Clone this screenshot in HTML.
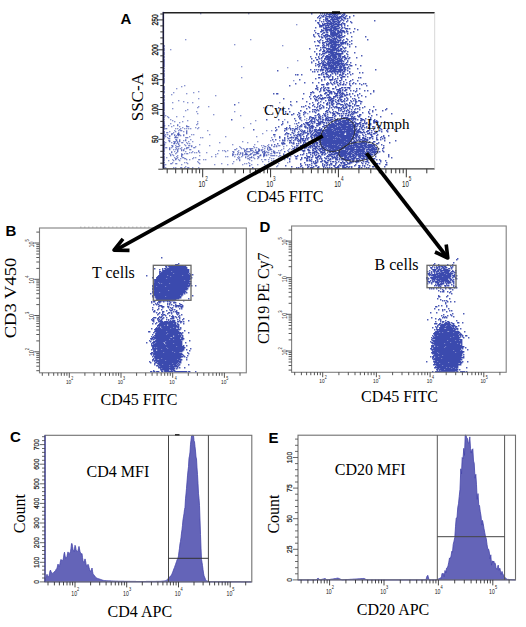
<!DOCTYPE html><html><head><meta charset="utf-8"><style>html,body{margin:0;padding:0;background:#fff;width:526px;height:627px;overflow:hidden}svg{display:block}</style></head><body><svg width="526" height="627" viewBox="0 0 526 627"><path d="M311 13h0m9 0h0m2 0h0m2 0h0m2 0h0m1 0h0m2 0h0m1 0h0m1 0h0m1 0h0m1 0h0m1 0h0m1 0h0m1 0h0m2 0h0m1 0h0m1 0h0m3 0h0m1 0h0m-20 1h0m2 0h0m2 0h0m1 0h0m1 0h0m1 0h0m2 0h0m1 0h0m1 0h0m2 0h0m5 0h0m2 0h0m-25 1h0m2 0h0m2 0h0m2 0h0m4 0h0m3 0h0m2 0h0m2 0h0m5 0h0m2 0h0m3 0h0m7 0h0m-35 1h0m4 0h0m1 0h0m3 0h0m1 0h0m1 0h0m1 0h0m1 0h0m1 0h0m2 0h0m1 0h0m1 0h0m2 0h0m2 0h0m1 0h0m1 0h0m1 0h0m3 0h0m4 0h0m-32 1h0m3 0h0m5 0h0m4 0h0m2 0h0m1 0h0m1 0h0m2 0h0m1 0h0m1 0h0m1 0h0m1 0h0m1 0h0m3 0h0m1 0h0m5 0h0m-30 1h0m6 0h0m1 0h0m1 0h0m4 0h0m1 0h0m2 0h0m2 0h0m1 0h0m1 0h0m1 0h0m2 0h0m3 0h0m1 0h0m2 0h0m-24 1h0m2 0h0m1 0h0m1 0h0m3 0h0m1 0h0m1 0h0m1 0h0m1 0h0m1 0h0m1 0h0m1 0h0m4 0h0m1 0h0m-27 1h0m4 0h0m6 0h0m2 0h0m1 0h0m1 0h0m3 0h0m1 0h0m4 0h0m1 0h0m2 0h0m3 0h0m4 0h0m27 0h0m-53 1h0m2 0h0m3 0h0m2 0h0m1 0h0m1 0h0m2 0h0m1 0h0m1 0h0m1 0h0m1 0h0m2 0h0m1 0h0m7 0h0m4 0h0m-33 1h0m1 0h0m9 0h0m3 0h0m1 0h0m2 0h0m1 0h0m3 0h0m1 0h0m1 0h0m3 0h0m9 0h0m-33 1h0m4 0h0m2 0h0m1 0h0m1 0h0m1 0h0m1 0h0m1 0h0m1 0h0m1 0h0m1 0h0m1 0h0m2 0h0m1 0h0m2 0h0m3 0h0m2 0h0m1 0h0m-25 1h0m3 0h0m1 0h0m1 0h0m3 0h0m2 0h0m1 0h0m1 0h0m2 0h0m1 0h0m1 0h0m1 0h0m1 0h0m1 0h0m1 0h0m1 0h0m1 0h0m3 0h0m-25 1h0m1 0h0m1 0h0m1 0h0m1 0h0m2 0h0m1 0h0m1 0h0m1 0h0m3 0h0m1 0h0m1 0h0m4 0h0m1 0h0m3 0h0m3 0h0m3 0h0m-28 1h0m1 0h0m1 0h0m4 0h0m3 0h0m2 0h0m1 0h0m1 0h0m2 0h0m1 0h0m1 0h0m1 0h0m1 0h0m3 0h0m-26 1h0m8 0h0m2 0h0m1 0h0m1 0h0m1 0h0m1 0h0m2 0h0m1 0h0m1 0h0m1 0h0m1 0h0m4 0h0m3 0h0m2 0h0m-21 1h0m1 0h0m1 0h0m1 0h0m4 0h0m1 0h0m2 0h0m1 0h0m1 0h0m1 0h0m1 0h0m1 0h0m3 0h0m4 0h0m1 0h0m1 0h0m2 0h0m5 0h0m-33 1h0m4 0h0m1 0h0m1 0h0m1 0h0m1 0h0m1 0h0m1 0h0m2 0h0m1 0h0m1 0h0m1 0h0m4 0h0m17 0h0m-43 1h0m7 0h0m1 0h0m1 0h0m2 0h0m1 0h0m1 0h0m2 0h0m1 0h0m1 0h0m1 0h0m1 0h0m2 0h0m2 0h0m1 0h0m2 0h0m1 0h0m1 0h0m1 0h0m3 0h0m-26 1h0m1 0h0m5 0h0m4 0h0m1 0h0m2 0h0m1 0h0m3 0h0m1 0h0m1 0h0m1 0h0m2 0h0m1 0h0m1 0h0m2 0h0m1 0h0m6 0h0m-38 1h0m8 0h0m1 0h0m2 0h0m1 0h0m3 0h0m1 0h0m1 0h0m1 0h0m1 0h0m1 0h0m2 0h0m1 0h0m1 0h0m1 0h0m1 0h0m3 0h0m6 0h0m-33 1h0m1 0h0m4 0h0m8 0h0m1 0h0m1 0h0m1 0h0m1 0h0m1 0h0m1 0h0m1 0h0m1 0h0m3 0h0m6 0h0m-34 1h0m8 0h0m4 0h0m1 0h0m1 0h0m3 0h0m1 0h0m1 0h0m1 0h0m1 0h0m1 0h0m1 0h0m1 0h0m2 0h0m2 0h0m-28 1h0m5 0h0m5 0h0m1 0h0m1 0h0m2 0h0m1 0h0m1 0h0m2 0h0m1 0h0m1 0h0m1 0h0m1 0h0m1 0h0m2 0h0m1 0h0m1 0h0m1 0h0m3 0h0m-30 1h0m5 0h0m2 0h0m3 0h0m2 0h0m1 0h0m2 0h0m1 0h0m2 0h0m1 0h0m3 0h0m1 0h0m1 0h0m1 0h0m3 0h0m1 0h0m8 0h0m14 0h0m-44 1h0m1 0h0m3 0h0m6 0h0m3 0h0m2 0h0m2 0h0m1 0h0m1 0h0m1 0h0m-16 1h0m2 0h0m1 0h0m1 0h0m3 0h0m1 0h0m1 0h0m1 0h0m1 0h0m3 0h0m7 0h0m-26 1h0m6 0h0m1 0h0m2 0h0m1 0h0m1 0h0m2 0h0m1 0h0m1 0h0m2 0h0m3 0h0m3 0h0m4 0h0m20 0h0m-50 1h0m2 0h0m3 0h0m5 0h0m2 0h0m1 0h0m1 0h0m1 0h0m1 0h0m2 0h0m2 0h0m1 0h0m1 0h0m1 0h0m2 0h0m9 0h0m-37 1h0m4 0h0m7 0h0m1 0h0m1 0h0m1 0h0m2 0h0m1 0h0m1 0h0m1 0h0m1 0h0m1 0h0m1 0h0m2 0h0m4 0h0m3 0h0m1 0h0m3 0h0m-30 1h0m3 0h0m1 0h0m1 0h0m5 0h0m1 0h0m1 0h0m1 0h0m1 0h0m1 0h0m1 0h0m1 0h0m1 0h0m1 0h0m2 0h0m1 0h0m1 0h0m1 0h0m1 0h0m1 0h0m-23 1h0m4 0h0m2 0h0m1 0h0m1 0h0m1 0h0m2 0h0m1 0h0m1 0h0m5 0h0m1 0h0m1 0h0m1 0h0m2 0h0m2 0h0m4 0h0m-28 1h0m3 0h0m1 0h0m1 0h0m3 0h0m1 0h0m1 0h0m1 0h0m1 0h0m1 0h0m1 0h0m1 0h0m1 0h0m2 0h0m6 0h0m2 0h0m-34 1h0m2 0h0m1 0h0m4 0h0m2 0h0m2 0h0m2 0h0m2 0h0m1 0h0m1 0h0m2 0h0m1 0h0m1 0h0m2 0h0m2 0h0m-17 1h0m5 0h0m2 0h0m1 0h0m1 0h0m1 0h0m1 0h0m1 0h0m3 0h0m1 0h0m3 0h0m7 0h0m6 0h0m-35 1h0m2 0h0m1 0h0m1 0h0m1 0h0m5 0h0m1 0h0m1 0h0m1 0h0m1 0h0m1 0h0m2 0h0m1 0h0m5 0h0m2 0h0m-36 1h0m7 0h0m10 0h0m1 0h0m1 0h0m1 0h0m3 0h0m1 0h0m1 0h0m1 0h0m1 0h0m1 0h0m3 0h0m1 0h0m3 0h0m-24 1h0m3 0h0m3 0h0m2 0h0m1 0h0m1 0h0m1 0h0m1 0h0m1 0h0m1 0h0m1 0h0m1 0h0m2 0h0m2 0h0m1 0h0m-22 1h0m4 0h0m1 0h0m3 0h0m3 0h0m1 0h0m1 0h0m1 0h0m1 0h0m2 0h0m1 0h0m1 0h0m1 0h0m1 0h0m3 0h0m2 0h0m-31 1h0m8 0h0m1 0h0m1 0h0m2 0h0m1 0h0m1 0h0m1 0h0m1 0h0m1 0h0m1 0h0m4 0h0m2 0h0m3 0h0m1 0h0m2 0h0m3 0h0m-22 1h0m1 0h0m2 0h0m1 0h0m1 0h0m1 0h0m1 0h0m1 0h0m1 0h0m1 0h0m1 0h0m6 0h0m12 0h0m-38 1h0m3 0h0m3 0h0m1 0h0m1 0h0m6 0h0m1 0h0m1 0h0m1 0h0m2 0h0m1 0h0m1 0h0m1 0h0m1 0h0m1 0h0m1 0h0m1 0h0m4 0h0m-30 1h0m3 0h0m2 0h0m7 0h0m1 0h0m2 0h0m1 0h0m1 0h0m1 0h0m1 0h0m1 0h0m1 0h0m1 0h0m1 0h0m1 0h0m7 0h0m-24 1h0m3 0h0m1 0h0m3 0h0m1 0h0m1 0h0m1 0h0m1 0h0m1 0h0m3 0h0m1 0h0m1 0h0m4 0h0m17 0h0m-51 1h0m8 0h0m4 0h0m3 0h0m1 0h0m1 0h0m1 0h0m1 0h0m1 0h0m2 0h0m1 0h0m1 0h0m1 0h0m1 0h0m2 0h0m1 0h0m1 0h0m2 0h0m1 0h0m1 0h0m3 0h0m-32 1h0m3 0h0m3 0h0m4 0h0m1 0h0m1 0h0m1 0h0m1 0h0m1 0h0m2 0h0m1 0h0m1 0h0m1 0h0m1 0h0m2 0h0m2 0h0m2 0h0m2 0h0m1 0h0m4 0h0m7 0h0m-45 1h0m8 0h0m2 0h0m3 0h0m1 0h0m2 0h0m1 0h0m1 0h0m1 0h0m1 0h0m2 0h0m1 0h0m1 0h0m2 0h0m1 0h0m1 0h0m2 0h0m4 0h0m1 0h0m2 0h0m-32 1h0m1 0h0m7 0h0m2 0h0m1 0h0m1 0h0m1 0h0m2 0h0m1 0h0m1 0h0m2 0h0m1 0h0m1 0h0m2 0h0m1 0h0m1 0h0m3 0h0m-31 1h0m8 0h0m2 0h0m5 0h0m1 0h0m1 0h0m1 0h0m1 0h0m1 0h0m1 0h0m3 0h0m1 0h0m1 0h0m1 0h0m1 0h0m1 0h0m5 0h0m-29 1h0m4 0h0m2 0h0m3 0h0m1 0h0m2 0h0m2 0h0m1 0h0m2 0h0m1 0h0m1 0h0m1 0h0m1 0h0m1 0h0m1 0h0m2 0h0m4 0h0m-36 1h0m7 0h0m3 0h0m2 0h0m2 0h0m2 0h0m1 0h0m1 0h0m1 0h0m1 0h0m1 0h0m1 0h0m1 0h0m1 0h0m1 0h0m1 0h0m1 0h0m3 0h0m5 0h0m4 0h0m-35 1h0m4 0h0m1 0h0m2 0h0m1 0h0m3 0h0m1 0h0m1 0h0m1 0h0m1 0h0m2 0h0m1 0h0m1 0h0m1 0h0m1 0h0m1 0h0m1 0h0m1 0h0m1 0h0m1 0h0m1 0h0m1 0h0m2 0h0m-28 1h0m1 0h0m4 0h0m1 0h0m1 0h0m1 0h0m2 0h0m1 0h0m1 0h0m2 0h0m2 0h0m1 0h0m1 0h0m2 0h0m1 0h0m1 0h0m2 0h0m1 0h0m2 0h0m2 0h0m1 0h0m2 0h0m6 0h0m-40 1h0m4 0h0m3 0h0m1 0h0m1 0h0m1 0h0m1 0h0m2 0h0m1 0h0m1 0h0m1 0h0m1 0h0m1 0h0m2 0h0m1 0h0m1 0h0m1 0h0m2 0h0m2 0h0m1 0h0m1 0h0m6 0h0m1 0h0m9 0h0m-42 1h0m3 0h0m3 0h0m4 0h0m1 0h0m1 0h0m1 0h0m1 0h0m1 0h0m2 0h0m1 0h0m3 0h0m1 0h0m1 0h0m2 0h0m5 0h0m-27 1h0m2 0h0m1 0h0m1 0h0m1 0h0m2 0h0m2 0h0m1 0h0m1 0h0m1 0h0m1 0h0m1 0h0m1 0h0m1 0h0m2 0h0m1 0h0m1 0h0m2 0h0m1 0h0m1 0h0m2 0h0m-26 1h0m4 0h0m1 0h0m1 0h0m1 0h0m1 0h0m1 0h0m1 0h0m1 0h0m1 0h0m1 0h0m1 0h0m4 0h0m1 0h0m3 0h0m1 0h0m3 0h0m2 0h0m8 0h0m-47 1h0m4 0h0m2 0h0m2 0h0m2 0h0m1 0h0m1 0h0m1 0h0m3 0h0m1 0h0m3 0h0m1 0h0m2 0h0m1 0h0m1 0h0m1 0h0m1 0h0m1 0h0m1 0h0m1 0h0m1 0h0m1 0h0m2 0h0m1 0h0m30 0h0m-98 1h0m43 0h0m2 0h0m3 0h0m2 0h0m2 0h0m1 0h0m2 0h0m1 0h0m1 0h0m1 0h0m3 0h0m1 0h0m1 0h0m1 0h0m1 0h0m2 0h0m3 0h0m-35 1h0m2 0h0m3 0h0m8 0h0m2 0h0m1 0h0m1 0h0m1 0h0m1 0h0m1 0h0m1 0h0m1 0h0m1 0h0m1 0h0m1 0h0m1 0h0m1 0h0m1 0h0m3 0h0m1 0h0m5 0h0m-27 1h0m1 0h0m3 0h0m5 0h0m3 0h0m3 0h0m3 0h0m2 0h0m7 0h0m10 0h0m3 0h0m-41 1h0m4 0h0m1 0h0m6 0h0m3 0h0m2 0h0m5 0h0m1 0h0m4 0h0m5 0h0m-57 1h0m2 0h0m4 0h0m17 0h0m1 0h0m2 0h0m2 0h0m3 0h0m1 0h0m3 0h0m5 0h0m4 0h0m1 0h0m2 0h0m3 0h0m5 0h0m-22 1h0m2 0h0m9 0h0m2 0h0m-18 1h0m1 0h0m2 0h0m1 0h0m2 0h0m3 0h0m5 0h0m5 0h0m1 0h0m1 0h0m3 0h0m-29 1h0m1 0h0m5 0h0m4 0h0m4 0h0m8 0h0m1 0h0m17 0h0m2 0h0m-45 1h0m17 0h0m3 0h0m2 0h0m4 0h0m-42 1h0m22 0h0m3 0h0m5 0h0m1 0h0m1 0h0m1 0h0m2 0h0m7 0h0m4 0h0m7 0h0m-31 1h0m9 0h0m6 0h0m3 0h0m1 0h0m10 0h0m7 0h0m-23 1h0m2 0h0m7 0h0m6 0h0m-45 1h0m8 0h0m6 0h0m9 0h0m3 0h0m3 0h0m3 0h0m1 0h0m3 0h0m6 0h0m7 0h0m-58 1h0m31 0h0m2 0h0m3 0h0m3 0h0m5 0h0m4 0h0m6 0h0m3 0h0m3 0h0m4 0h0m4 0h0m2 0h0m-44 1h0m1 0h0m1 0h0m3 0h0m1 0h0m5 0h0m5 0h0m3 0h0m2 0h0m1 0h0m2 0h0m4 0h0m12 0h0m-72 1h0m27 0h0m22 0h0m12 0h0m16 0h0m-50 1h0m7 0h0m12 0h0m-18 1h0m4 0h0m2 0h0m2 0h0m2 0h0m1 0h0m7 0h0m6 0h0m1 0h0m2 0h0m1 0h0m2 0h0m1 0h0m1 0h0m-34 1h0m1 0h0m4 0h0m4 0h0m4 0h0m4 0h0m1 0h0m6 0h0m1 0h0m9 0h0m7 0h0m3 0h0m-42 1h0m3 0h0m3 0h0m3 0h0m10 0h0m1 0h0m1 0h0m1 0h0m3 0h0m3 0h0m1 0h0m-26 1h0m3 0h0m1 0h0m3 0h0m1 0h0m1 0h0m9 0h0m1 0h0m1 0h0m2 0h0m2 0h0m1 0h0m5 0h0m3 0h0m3 0h0m8 0h0m3 0h0m6 0h0m-61 1h0m7 0h0m9 0h0m2 0h0m1 0h0m2 0h0m4 0h0m1 0h0m2 0h0m15 0h0m18 0h0m-63 1h0m1 0h0m2 0h0m12 0h0m1 0h0m3 0h0m1 0h0m1 0h0m3 0h0m3 0h0m2 0h0m1 0h0m2 0h0m4 0h0m-73 1h0m3 0h0m1 0h0m26 0h0m21 0h0m1 0h0m4 0h0m2 0h0m3 0h0m1 0h0m1 0h0m1 0h0m2 0h0m2 0h0m1 0h0m1 0h0m6 0h0m3 0h0m7 0h0m11 0h0m-60 1h0m10 0h0m7 0h0m1 0h0m8 0h0m4 0h0m2 0h0m2 0h0m2 0h0m1 0h0m2 0h0m8 0h0m-43 1h0m4 0h0m2 0h0m1 0h0m5 0h0m2 0h0m7 0h0m1 0h0m1 0h0m2 0h0m2 0h0m3 0h0m1 0h0m9 0h0m3 0h0m4 0h0m-52 1h0m4 0h0m2 0h0m2 0h0m12 0h0m4 0h0m1 0h0m1 0h0m5 0h0m1 0h0m1 0h0m8 0h0m15 0h0m-49 1h0m3 0h0m3 0h0m2 0h0m1 0h0m2 0h0m1 0h0m1 0h0m1 0h0m3 0h0m4 0h0m2 0h0m1 0h0m6 0h0m12 0h0m-75 1h0m19 0h0m8 0h0m4 0h0m4 0h0m2 0h0m1 0h0m1 0h0m1 0h0m6 0h0m2 0h0m1 0h0m1 0h0m6 0h0m5 0h0m3 0h0m5 0h0m2 0h0m-39 1h0m1 0h0m5 0h0m7 0h0m2 0h0m1 0h0m4 0h0m3 0h0m2 0h0m1 0h0m3 0h0m3 0h0m8 0h0m-40 1h0m2 0h0m8 0h0m3 0h0m1 0h0m1 0h0m2 0h0m1 0h0m4 0h0m1 0h0m2 0h0m3 0h0m3 0h0m4 0h0m3 0h0m2 0h0m3 0h0m1 0h0m-69 1h0m6 0h0m10 0h0m14 0h0m11 0h0m1 0h0m3 0h0m3 0h0m3 0h0m1 0h0m2 0h0m7 0h0m4 0h0m1 0h0m4 0h0m1 0h0m-49 1h0m6 0h0m5 0h0m4 0h0m2 0h0m2 0h0m1 0h0m4 0h0m13 0h0m6 0h0m-46 1h0m8 0h0m9 0h0m1 0h0m2 0h0m2 0h0m2 0h0m4 0h0m1 0h0m1 0h0m5 0h0m2 0h0m3 0h0m3 0h0m3 0h0m5 0h0m-126 1h0m56 0h0m23 0h0m4 0h0m3 0h0m6 0h0m1 0h0m4 0h0m1 0h0m4 0h0m4 0h0m1 0h0m1 0h0m3 0h0m2 0h0m7 0h0m-84 1h0m35 0h0m7 0h0m7 0h0m3 0h0m7 0h0m3 0h0m11 0h0m2 0h0m3 0h0m1 0h0m1 0h0m4 0h0m2 0h0m1 0h0m1 0h0m-57 1h0m2 0h0m5 0h0m6 0h0m3 0h0m2 0h0m4 0h0m6 0h0m4 0h0m2 0h0m1 0h0m6 0h0m4 0h0m3 0h0m3 0h0m12 0h0m9 0h0m-95 1h0m31 0h0m7 0h0m5 0h0m2 0h0m3 0h0m3 0h0m2 0h0m3 0h0m2 0h0m1 0h0m1 0h0m1 0h0m2 0h0m2 0h0m2 0h0m1 0h0m6 0h0m7 0h0m3 0h0m-74 1h0m18 0h0m13 0h0m1 0h0m8 0h0m10 0h0m2 0h0m3 0h0m1 0h0m5 0h0m6 0h0m2 0h0m29 0h0m-106 1h0m2 0h0m30 0h0m2 0h0m1 0h0m2 0h0m11 0h0m4 0h0m6 0h0m3 0h0m6 0h0m4 0h0m3 0h0m5 0h0m10 0h0m6 0h0m10 0h0m-85 1h0m16 0h0m2 0h0m8 0h0m1 0h0m11 0h0m2 0h0m4 0h0m2 0h0m2 0h0m24 0h0m10 0h0m-97 1h0m4 0h0m15 0h0m5 0h0m3 0h0m2 0h0m11 0h0m1 0h0m3 0h0m4 0h0m2 0h0m7 0h0m1 0h0m3 0h0m3 0h0m2 0h0m2 0h0m1 0h0m3 0h0m11 0h0m4 0h0m-74 1h0m5 0h0m2 0h0m10 0h0m12 0h0m3 0h0m2 0h0m4 0h0m1 0h0m11 0h0m1 0h0m3 0h0m2 0h0m1 0h0m1 0h0m6 0h0m6 0h0m-102 1h0m19 0h0m8 0h0m6 0h0m19 0h0m5 0h0m2 0h0m7 0h0m1 0h0m1 0h0m3 0h0m1 0h0m1 0h0m2 0h0m2 0h0m2 0h0m1 0h0m5 0h0m2 0h0m16 0h0m22 0h0m-100 1h0m6 0h0m6 0h0m14 0h0m1 0h0m6 0h0m3 0h0m6 0h0m1 0h0m14 0h0m2 0h0m2 0h0m7 0h0m1 0h0m16 0h0m-77 1h0m16 0h0m4 0h0m3 0h0m2 0h0m1 0h0m7 0h0m3 0h0m4 0h0m2 0h0m1 0h0m3 0h0m2 0h0m1 0h0m2 0h0m7 0h0m2 0h0m12 0h0m-73 1h0m12 0h0m8 0h0m2 0h0m5 0h0m2 0h0m7 0h0m7 0h0m10 0h0m1 0h0m2 0h0m4 0h0m1 0h0m9 0h0m12 0h0m-80 1h0m9 0h0m2 0h0m1 0h0m1 0h0m2 0h0m3 0h0m1 0h0m3 0h0m4 0h0m2 0h0m1 0h0m1 0h0m1 0h0m1 0h0m9 0h0m2 0h0m1 0h0m1 0h0m1 0h0m1 0h0m4 0h0m2 0h0m17 0h0m-76 1h0m5 0h0m10 0h0m3 0h0m2 0h0m6 0h0m5 0h0m1 0h0m1 0h0m7 0h0m3 0h0m4 0h0m1 0h0m1 0h0m1 0h0m2 0h0m1 0h0m1 0h0m1 0h0m1 0h0m1 0h0m1 0h0m1 0h0m1 0h0m1 0h0m5 0h0m1 0h0m4 0h0m5 0h0m-139 1h0m35 0h0m12 0h0m33 0h0m3 0h0m2 0h0m2 0h0m2 0h0m2 0h0m1 0h0m2 0h0m1 0h0m2 0h0m2 0h0m1 0h0m1 0h0m3 0h0m1 0h0m1 0h0m2 0h0m1 0h0m6 0h0m2 0h0m1 0h0m2 0h0m2 0h0m2 0h0m2 0h0m4 0h0m1 0h0m1 0h0m7 0h0m4 0h0m-79 1h0m15 0h0m1 0h0m6 0h0m8 0h0m2 0h0m1 0h0m1 0h0m1 0h0m5 0h0m1 0h0m1 0h0m1 0h0m1 0h0m1 0h0m2 0h0m1 0h0m1 0h0m1 0h0m1 0h0m1 0h0m1 0h0m4 0h0m8 0h0m1 0h0m3 0h0m9 0h0m1 0h0m2 0h0m-94 1h0m27 0h0m2 0h0m2 0h0m1 0h0m4 0h0m2 0h0m1 0h0m1 0h0m9 0h0m1 0h0m2 0h0m1 0h0m1 0h0m2 0h0m2 0h0m1 0h0m1 0h0m1 0h0m1 0h0m1 0h0m2 0h0m1 0h0m2 0h0m2 0h0m2 0h0m10 0h0m9 0h0m1 0h0m1 0h0m1 0h0m1 0h0m7 0h0m-86 1h0m7 0h0m1 0h0m1 0h0m1 0h0m3 0h0m3 0h0m4 0h0m1 0h0m1 0h0m2 0h0m1 0h0m1 0h0m2 0h0m2 0h0m3 0h0m3 0h0m1 0h0m3 0h0m1 0h0m1 0h0m2 0h0m1 0h0m1 0h0m1 0h0m1 0h0m1 0h0m1 0h0m1 0h0m1 0h0m1 0h0m1 0h0m1 0h0m2 0h0m4 0h0m1 0h0m4 0h0m2 0h0m7 0h0m1 0h0m-92 1h0m14 0h0m7 0h0m3 0h0m1 0h0m5 0h0m4 0h0m1 0h0m1 0h0m1 0h0m1 0h0m6 0h0m5 0h0m1 0h0m1 0h0m2 0h0m1 0h0m1 0h0m1 0h0m1 0h0m1 0h0m1 0h0m2 0h0m1 0h0m1 0h0m1 0h0m1 0h0m1 0h0m4 0h0m3 0h0m1 0h0m1 0h0m1 0h0m1 0h0m3 0h0m1 0h0m2 0h0m1 0h0m4 0h0m-89 1h0m20 0h0m3 0h0m3 0h0m1 0h0m1 0h0m9 0h0m1 0h0m4 0h0m5 0h0m1 0h0m1 0h0m1 0h0m1 0h0m1 0h0m1 0h0m2 0h0m1 0h0m1 0h0m1 0h0m1 0h0m1 0h0m1 0h0m1 0h0m1 0h0m1 0h0m1 0h0m1 0h0m1 0h0m1 0h0m1 0h0m1 0h0m1 0h0m2 0h0m1 0h0m2 0h0m3 0h0m8 0h0m2 0h0m6 0h0m-87 1h0m8 0h0m3 0h0m8 0h0m1 0h0m2 0h0m1 0h0m4 0h0m1 0h0m7 0h0m1 0h0m1 0h0m2 0h0m1 0h0m1 0h0m1 0h0m1 0h0m1 0h0m1 0h0m1 0h0m1 0h0m2 0h0m2 0h0m1 0h0m1 0h0m1 0h0m1 0h0m1 0h0m3 0h0m1 0h0m1 0h0m2 0h0m1 0h0m1 0h0m1 0h0m2 0h0m3 0h0m2 0h0m1 0h0m16 0h0m-101 1h0m21 0h0m5 0h0m1 0h0m5 0h0m1 0h0m1 0h0m1 0h0m9 0h0m1 0h0m4 0h0m2 0h0m1 0h0m1 0h0m1 0h0m1 0h0m1 0h0m1 0h0m1 0h0m2 0h0m1 0h0m2 0h0m1 0h0m1 0h0m1 0h0m1 0h0m1 0h0m1 0h0m1 0h0m1 0h0m1 0h0m1 0h0m1 0h0m1 0h0m1 0h0m1 0h0m1 0h0m3 0h0m1 0h0m2 0h0m4 0h0m6 0h0m1 0h0m-98 1h0m11 0h0m3 0h0m8 0h0m8 0h0m2 0h0m2 0h0m2 0h0m1 0h0m3 0h0m4 0h0m5 0h0m2 0h0m1 0h0m1 0h0m1 0h0m1 0h0m1 0h0m1 0h0m1 0h0m1 0h0m2 0h0m1 0h0m1 0h0m1 0h0m1 0h0m1 0h0m1 0h0m1 0h0m1 0h0m1 0h0m1 0h0m1 0h0m1 0h0m1 0h0m1 0h0m2 0h0m1 0h0m1 0h0m7 0h0m3 0h0m2 0h0m2 0h0m9 0h0m-92 1h0m1 0h0m4 0h0m2 0h0m3 0h0m1 0h0m11 0h0m3 0h0m2 0h0m7 0h0m2 0h0m3 0h0m3 0h0m1 0h0m1 0h0m1 0h0m3 0h0m1 0h0m1 0h0m1 0h0m1 0h0m1 0h0m1 0h0m1 0h0m2 0h0m1 0h0m1 0h0m1 0h0m2 0h0m1 0h0m1 0h0m1 0h0m1 0h0m1 0h0m2 0h0m2 0h0m3 0h0m2 0h0m19 0h0m-127 1h0m23 0h0m10 0h0m4 0h0m4 0h0m15 0h0m5 0h0m1 0h0m1 0h0m2 0h0m1 0h0m1 0h0m1 0h0m4 0h0m1 0h0m1 0h0m1 0h0m1 0h0m1 0h0m1 0h0m1 0h0m2 0h0m1 0h0m1 0h0m1 0h0m1 0h0m1 0h0m1 0h0m1 0h0m1 0h0m1 0h0m1 0h0m1 0h0m1 0h0m1 0h0m1 0h0m1 0h0m1 0h0m1 0h0m1 0h0m2 0h0m1 0h0m1 0h0m2 0h0m1 0h0m3 0h0m1 0h0m6 0h0m4 0h0m8 0h0m6 0h0m7 0h0m-119 1h0m9 0h0m8 0h0m2 0h0m6 0h0m2 0h0m2 0h0m5 0h0m1 0h0m2 0h0m2 0h0m1 0h0m2 0h0m1 0h0m1 0h0m1 0h0m1 0h0m1 0h0m1 0h0m1 0h0m1 0h0m1 0h0m1 0h0m1 0h0m1 0h0m1 0h0m1 0h0m2 0h0m1 0h0m1 0h0m2 0h0m2 0h0m1 0h0m1 0h0m3 0h0m2 0h0m1 0h0m1 0h0m1 0h0m1 0h0m1 0h0m1 0h0m1 0h0m1 0h0m1 0h0m2 0h0m1 0h0m9 0h0m1 0h0m3 0h0m8 0h0m7 0h0m-92 1h0m4 0h0m3 0h0m2 0h0m1 0h0m3 0h0m2 0h0m2 0h0m3 0h0m1 0h0m1 0h0m4 0h0m2 0h0m1 0h0m2 0h0m1 0h0m1 0h0m1 0h0m1 0h0m1 0h0m1 0h0m1 0h0m1 0h0m2 0h0m1 0h0m1 0h0m1 0h0m1 0h0m1 0h0m1 0h0m1 0h0m1 0h0m1 0h0m1 0h0m1 0h0m1 0h0m1 0h0m1 0h0m1 0h0m1 0h0m1 0h0m1 0h0m1 0h0m2 0h0m1 0h0m1 0h0m1 0h0m1 0h0m3 0h0m3 0h0m1 0h0m7 0h0m7 0h0m6 0h0m-101 1h0m6 0h0m11 0h0m2 0h0m5 0h0m3 0h0m3 0h0m1 0h0m1 0h0m1 0h0m1 0h0m2 0h0m1 0h0m1 0h0m2 0h0m1 0h0m1 0h0m1 0h0m1 0h0m1 0h0m1 0h0m1 0h0m1 0h0m1 0h0m1 0h0m1 0h0m1 0h0m1 0h0m1 0h0m1 0h0m1 0h0m1 0h0m1 0h0m2 0h0m1 0h0m1 0h0m1 0h0m2 0h0m1 0h0m1 0h0m1 0h0m2 0h0m1 0h0m1 0h0m2 0h0m1 0h0m1 0h0m2 0h0m5 0h0m2 0h0m4 0h0m1 0h0m-91 1h0m2 0h0m1 0h0m5 0h0m7 0h0m3 0h0m4 0h0m1 0h0m2 0h0m2 0h0m3 0h0m2 0h0m1 0h0m1 0h0m1 0h0m1 0h0m1 0h0m1 0h0m1 0h0m1 0h0m1 0h0m1 0h0m1 0h0m1 0h0m1 0h0m1 0h0m1 0h0m1 0h0m1 0h0m1 0h0m1 0h0m1 0h0m1 0h0m2 0h0m1 0h0m1 0h0m1 0h0m3 0h0m1 0h0m1 0h0m1 0h0m1 0h0m1 0h0m1 0h0m1 0h0m1 0h0m1 0h0m1 0h0m11 0h0m1 0h0m1 0h0m4 0h0m1 0h0m-101 1h0m1 0h0m16 0h0m7 0h0m1 0h0m1 0h0m3 0h0m5 0h0m4 0h0m1 0h0m2 0h0m1 0h0m1 0h0m2 0h0m1 0h0m2 0h0m1 0h0m1 0h0m1 0h0m1 0h0m2 0h0m1 0h0m1 0h0m1 0h0m1 0h0m1 0h0m1 0h0m1 0h0m1 0h0m1 0h0m1 0h0m1 0h0m1 0h0m1 0h0m1 0h0m1 0h0m1 0h0m3 0h0m1 0h0m1 0h0m1 0h0m1 0h0m1 0h0m1 0h0m1 0h0m1 0h0m1 0h0m1 0h0m1 0h0m5 0h0m3 0h0m5 0h0m1 0h0m6 0h0m-83 1h0m2 0h0m3 0h0m1 0h0m6 0h0m5 0h0m2 0h0m1 0h0m1 0h0m1 0h0m1 0h0m1 0h0m1 0h0m1 0h0m2 0h0m1 0h0m1 0h0m1 0h0m1 0h0m1 0h0m1 0h0m1 0h0m1 0h0m1 0h0m1 0h0m2 0h0m1 0h0m1 0h0m1 0h0m1 0h0m1 0h0m1 0h0m1 0h0m1 0h0m1 0h0m1 0h0m1 0h0m1 0h0m1 0h0m1 0h0m1 0h0m1 0h0m1 0h0m2 0h0m2 0h0m1 0h0m1 0h0m2 0h0m4 0h0m8 0h0m5 0h0m7 0h0m5 0h0m-109 1h0m8 0h0m10 0h0m6 0h0m3 0h0m4 0h0m1 0h0m3 0h0m2 0h0m1 0h0m3 0h0m1 0h0m1 0h0m1 0h0m1 0h0m1 0h0m1 0h0m1 0h0m1 0h0m1 0h0m1 0h0m1 0h0m1 0h0m1 0h0m1 0h0m1 0h0m2 0h0m1 0h0m1 0h0m1 0h0m1 0h0m1 0h0m1 0h0m1 0h0m1 0h0m1 0h0m1 0h0m1 0h0m1 0h0m1 0h0m1 0h0m1 0h0m3 0h0m1 0h0m2 0h0m7 0h0m6 0h0m1 0h0m9 0h0m2 0h0m-104 1h0m5 0h0m6 0h0m1 0h0m2 0h0m2 0h0m1 0h0m4 0h0m6 0h0m2 0h0m3 0h0m1 0h0m2 0h0m2 0h0m1 0h0m5 0h0m1 0h0m1 0h0m1 0h0m1 0h0m2 0h0m1 0h0m1 0h0m1 0h0m1 0h0m1 0h0m1 0h0m2 0h0m2 0h0m2 0h0m1 0h0m1 0h0m1 0h0m1 0h0m1 0h0m1 0h0m1 0h0m1 0h0m1 0h0m1 0h0m2 0h0m1 0h0m1 0h0m2 0h0m2 0h0m1 0h0m3 0h0m1 0h0m4 0h0m2 0h0m1 0h0m6 0h0m4 0h0m4 0h0m-100 1h0m4 0h0m7 0h0m2 0h0m3 0h0m1 0h0m1 0h0m1 0h0m2 0h0m2 0h0m4 0h0m4 0h0m1 0h0m1 0h0m1 0h0m1 0h0m1 0h0m1 0h0m1 0h0m1 0h0m1 0h0m1 0h0m1 0h0m1 0h0m1 0h0m1 0h0m1 0h0m1 0h0m1 0h0m1 0h0m1 0h0m1 0h0m1 0h0m1 0h0m1 0h0m1 0h0m2 0h0m1 0h0m1 0h0m1 0h0m1 0h0m1 0h0m1 0h0m1 0h0m1 0h0m1 0h0m1 0h0m1 0h0m1 0h0m2 0h0m4 0h0m3 0h0m1 0h0m1 0h0m1 0h0m4 0h0m3 0h0m4 0h0m6 0h0m2 0h0m-112 1h0m3 0h0m20 0h0m3 0h0m2 0h0m2 0h0m3 0h0m2 0h0m5 0h0m2 0h0m6 0h0m1 0h0m1 0h0m1 0h0m1 0h0m1 0h0m1 0h0m1 0h0m1 0h0m1 0h0m1 0h0m1 0h0m1 0h0m2 0h0m2 0h0m1 0h0m1 0h0m1 0h0m1 0h0m1 0h0m1 0h0m1 0h0m1 0h0m1 0h0m2 0h0m1 0h0m1 0h0m1 0h0m1 0h0m2 0h0m3 0h0m2 0h0m2 0h0m1 0h0m3 0h0m1 0h0m1 0h0m1 0h0m9 0h0m1 0h0m3 0h0m-98 1h0m2 0h0m5 0h0m1 0h0m3 0h0m4 0h0m2 0h0m1 0h0m2 0h0m1 0h0m1 0h0m8 0h0m1 0h0m1 0h0m1 0h0m1 0h0m2 0h0m1 0h0m1 0h0m1 0h0m1 0h0m1 0h0m1 0h0m1 0h0m1 0h0m1 0h0m1 0h0m1 0h0m1 0h0m1 0h0m1 0h0m1 0h0m1 0h0m1 0h0m1 0h0m1 0h0m1 0h0m1 0h0m1 0h0m1 0h0m1 0h0m1 0h0m1 0h0m1 0h0m1 0h0m1 0h0m1 0h0m1 0h0m1 0h0m4 0h0m2 0h0m1 0h0m2 0h0m3 0h0m1 0h0m1 0h0m2 0h0m1 0h0m17 0h0m11 0h0m-97 1h0m2 0h0m4 0h0m5 0h0m5 0h0m1 0h0m4 0h0m1 0h0m2 0h0m1 0h0m1 0h0m1 0h0m1 0h0m1 0h0m1 0h0m1 0h0m1 0h0m1 0h0m1 0h0m1 0h0m1 0h0m1 0h0m1 0h0m1 0h0m1 0h0m1 0h0m1 0h0m1 0h0m1 0h0m1 0h0m2 0h0m1 0h0m1 0h0m1 0h0m1 0h0m2 0h0m2 0h0m1 0h0m1 0h0m4 0h0m1 0h0m2 0h0m3 0h0m4 0h0m4 0h0m1 0h0m-91 1h0m6 0h0m2 0h0m2 0h0m7 0h0m3 0h0m2 0h0m3 0h0m2 0h0m1 0h0m4 0h0m1 0h0m1 0h0m2 0h0m1 0h0m1 0h0m1 0h0m1 0h0m1 0h0m1 0h0m1 0h0m1 0h0m1 0h0m1 0h0m1 0h0m1 0h0m1 0h0m1 0h0m1 0h0m1 0h0m1 0h0m1 0h0m1 0h0m1 0h0m1 0h0m1 0h0m1 0h0m1 0h0m1 0h0m1 0h0m2 0h0m1 0h0m1 0h0m2 0h0m1 0h0m1 0h0m1 0h0m1 0h0m6 0h0m1 0h0m1 0h0m1 0h0m2 0h0m2 0h0m4 0h0m6 0h0m11 0h0m-112 1h0m6 0h0m1 0h0m9 0h0m3 0h0m2 0h0m5 0h0m3 0h0m2 0h0m1 0h0m3 0h0m1 0h0m1 0h0m2 0h0m1 0h0m4 0h0m1 0h0m1 0h0m1 0h0m1 0h0m1 0h0m1 0h0m1 0h0m1 0h0m1 0h0m1 0h0m1 0h0m1 0h0m1 0h0m1 0h0m1 0h0m1 0h0m1 0h0m1 0h0m1 0h0m1 0h0m1 0h0m1 0h0m1 0h0m1 0h0m1 0h0m1 0h0m1 0h0m1 0h0m2 0h0m2 0h0m1 0h0m1 0h0m1 0h0m1 0h0m1 0h0m1 0h0m1 0h0m1 0h0m1 0h0m1 0h0m1 0h0m1 0h0m1 0h0m6 0h0m4 0h0m1 0h0m-103 1h0m28 0h0m4 0h0m2 0h0m4 0h0m2 0h0m2 0h0m3 0h0m1 0h0m1 0h0m1 0h0m1 0h0m1 0h0m1 0h0m1 0h0m2 0h0m1 0h0m1 0h0m1 0h0m2 0h0m2 0h0m1 0h0m1 0h0m2 0h0m1 0h0m2 0h0m1 0h0m1 0h0m1 0h0m1 0h0m1 0h0m2 0h0m2 0h0m2 0h0m1 0h0m1 0h0m1 0h0m2 0h0m1 0h0m1 0h0m1 0h0m3 0h0m1 0h0m1 0h0m2 0h0m1 0h0m1 0h0m1 0h0m2 0h0m8 0h0m-85 1h0m1 0h0m3 0h0m1 0h0m2 0h0m2 0h0m2 0h0m1 0h0m2 0h0m1 0h0m2 0h0m1 0h0m3 0h0m4 0h0m2 0h0m1 0h0m1 0h0m1 0h0m1 0h0m1 0h0m1 0h0m1 0h0m1 0h0m1 0h0m1 0h0m1 0h0m1 0h0m1 0h0m2 0h0m1 0h0m1 0h0m1 0h0m1 0h0m1 0h0m1 0h0m1 0h0m1 0h0m2 0h0m1 0h0m1 0h0m1 0h0m1 0h0m1 0h0m1 0h0m1 0h0m1 0h0m1 0h0m3 0h0m1 0h0m1 0h0m1 0h0m1 0h0m1 0h0m2 0h0m1 0h0m1 0h0m1 0h0m1 0h0m1 0h0m1 0h0m1 0h0m9 0h0m-83 1h0m1 0h0m3 0h0m2 0h0m3 0h0m1 0h0m2 0h0m2 0h0m1 0h0m1 0h0m2 0h0m1 0h0m2 0h0m1 0h0m1 0h0m2 0h0m1 0h0m1 0h0m1 0h0m1 0h0m1 0h0m1 0h0m1 0h0m1 0h0m1 0h0m1 0h0m1 0h0m1 0h0m1 0h0m3 0h0m1 0h0m2 0h0m1 0h0m2 0h0m1 0h0m1 0h0m1 0h0m1 0h0m2 0h0m2 0h0m1 0h0m1 0h0m1 0h0m1 0h0m1 0h0m1 0h0m1 0h0m2 0h0m1 0h0m1 0h0m2 0h0m1 0h0m1 0h0m1 0h0m1 0h0m2 0h0m-105 1h0m25 0h0m2 0h0m2 0h0m6 0h0m1 0h0m1 0h0m2 0h0m2 0h0m2 0h0m3 0h0m1 0h0m5 0h0m1 0h0m1 0h0m1 0h0m1 0h0m3 0h0m1 0h0m1 0h0m1 0h0m1 0h0m1 0h0m1 0h0m1 0h0m1 0h0m1 0h0m1 0h0m1 0h0m1 0h0m1 0h0m1 0h0m1 0h0m1 0h0m1 0h0m1 0h0m1 0h0m1 0h0m2 0h0m1 0h0m1 0h0m1 0h0m1 0h0m2 0h0m1 0h0m1 0h0m1 0h0m1 0h0m1 0h0m1 0h0m1 0h0m2 0h0m1 0h0m1 0h0m1 0h0m1 0h0m1 0h0m2 0h0m1 0h0m2 0h0m1 0h0m7 0h0m-90 1h0m4 0h0m3 0h0m4 0h0m9 0h0m1 0h0m1 0h0m2 0h0m2 0h0m1 0h0m1 0h0m1 0h0m1 0h0m1 0h0m2 0h0m2 0h0m2 0h0m1 0h0m1 0h0m1 0h0m2 0h0m1 0h0m1 0h0m1 0h0m1 0h0m1 0h0m1 0h0m1 0h0m1 0h0m2 0h0m1 0h0m1 0h0m1 0h0m1 0h0m1 0h0m1 0h0m1 0h0m1 0h0m3 0h0m2 0h0m1 0h0m3 0h0m1 0h0m1 0h0m4 0h0m3 0h0m1 0h0m1 0h0m1 0h0m2 0h0m2 0h0m4 0h0m-82 1h0m1 0h0m6 0h0m1 0h0m4 0h0m3 0h0m3 0h0m2 0h0m2 0h0m2 0h0m1 0h0m2 0h0m2 0h0m1 0h0m2 0h0m1 0h0m1 0h0m1 0h0m1 0h0m1 0h0m2 0h0m1 0h0m1 0h0m4 0h0m1 0h0m1 0h0m1 0h0m1 0h0m1 0h0m1 0h0m1 0h0m1 0h0m1 0h0m1 0h0m1 0h0m1 0h0m1 0h0m1 0h0m1 0h0m1 0h0m1 0h0m1 0h0m1 0h0m2 0h0m1 0h0m1 0h0m1 0h0m1 0h0m1 0h0m1 0h0m1 0h0m1 0h0m1 0h0m1 0h0m-74 1h0m1 0h0m1 0h0m4 0h0m1 0h0m3 0h0m1 0h0m3 0h0m3 0h0m3 0h0m1 0h0m1 0h0m3 0h0m1 0h0m1 0h0m1 0h0m1 0h0m1 0h0m1 0h0m1 0h0m1 0h0m3 0h0m1 0h0m2 0h0m1 0h0m1 0h0m1 0h0m1 0h0m2 0h0m3 0h0m1 0h0m1 0h0m1 0h0m3 0h0m1 0h0m1 0h0m1 0h0m1 0h0m1 0h0m1 0h0m1 0h0m3 0h0m3 0h0m1 0h0m1 0h0m1 0h0m2 0h0m8 0h0m-98 1h0m19 0h0m11 0h0m1 0h0m1 0h0m4 0h0m1 0h0m3 0h0m5 0h0m1 0h0m2 0h0m1 0h0m1 0h0m1 0h0m3 0h0m1 0h0m1 0h0m1 0h0m1 0h0m1 0h0m1 0h0m1 0h0m1 0h0m1 0h0m2 0h0m1 0h0m1 0h0m1 0h0m2 0h0m1 0h0m1 0h0m1 0h0m1 0h0m1 0h0m1 0h0m1 0h0m1 0h0m1 0h0m1 0h0m2 0h0m1 0h0m1 0h0m2 0h0m2 0h0m1 0h0m1 0h0m1 0h0m1 0h0m1 0h0m2 0h0m4 0h0m-109 1h0m16 0h0m1 0h0m17 0h0m1 0h0m1 0h0m2 0h0m1 0h0m1 0h0m2 0h0m1 0h0m3 0h0m1 0h0m1 0h0m1 0h0m1 0h0m3 0h0m2 0h0m1 0h0m2 0h0m1 0h0m2 0h0m1 0h0m1 0h0m1 0h0m1 0h0m1 0h0m1 0h0m1 0h0m1 0h0m1 0h0m1 0h0m1 0h0m2 0h0m1 0h0m1 0h0m2 0h0m1 0h0m2 0h0m1 0h0m1 0h0m1 0h0m2 0h0m2 0h0m1 0h0m2 0h0m3 0h0m1 0h0m2 0h0m1 0h0m1 0h0m1 0h0m1 0h0m2 0h0m-86 1h0m1 0h0m11 0h0m3 0h0m6 0h0m2 0h0m4 0h0m4 0h0m3 0h0m6 0h0m3 0h0m1 0h0m1 0h0m1 0h0m1 0h0m2 0h0m1 0h0m1 0h0m1 0h0m1 0h0m1 0h0m1 0h0m1 0h0m1 0h0m1 0h0m1 0h0m1 0h0m3 0h0m1 0h0m1 0h0m2 0h0m1 0h0m1 0h0m1 0h0m1 0h0m1 0h0m1 0h0m1 0h0m1 0h0m1 0h0m2 0h0m1 0h0m4 0h0m-91 1h0m17 0h0m2 0h0m8 0h0m4 0h0m2 0h0m5 0h0m1 0h0m2 0h0m4 0h0m1 0h0m1 0h0m1 0h0m1 0h0m1 0h0m1 0h0m3 0h0m1 0h0m1 0h0m1 0h0m1 0h0m1 0h0m1 0h0m1 0h0m1 0h0m2 0h0m1 0h0m1 0h0m1 0h0m2 0h0m1 0h0m2 0h0m1 0h0m1 0h0m1 0h0m1 0h0m1 0h0m2 0h0m2 0h0m1 0h0m2 0h0m1 0h0m1 0h0m1 0h0m1 0h0m1 0h0m2 0h0m1 0h0m13 0h0m-91 1h0m9 0h0m6 0h0m3 0h0m3 0h0m1 0h0m8 0h0m2 0h0m1 0h0m6 0h0m1 0h0m2 0h0m1 0h0m1 0h0m1 0h0m1 0h0m1 0h0m1 0h0m1 0h0m3 0h0m1 0h0m2 0h0m1 0h0m1 0h0m2 0h0m2 0h0m1 0h0m1 0h0m1 0h0m1 0h0m1 0h0m2 0h0m1 0h0m1 0h0m1 0h0m1 0h0m1 0h0m18 0h0m-101 1h0m8 0h0m1 0h0m11 0h0m1 0h0m1 0h0m3 0h0m5 0h0m1 0h0m2 0h0m6 0h0m1 0h0m1 0h0m3 0h0m1 0h0m2 0h0m2 0h0m3 0h0m1 0h0m1 0h0m1 0h0m2 0h0m1 0h0m1 0h0m2 0h0m1 0h0m1 0h0m1 0h0m1 0h0m1 0h0m2 0h0m3 0h0m1 0h0m1 0h0m2 0h0m1 0h0m1 0h0m1 0h0m1 0h0m1 0h0m1 0h0m2 0h0m5 0h0m13 0h0m-101 1h0m14 0h0m3 0h0m1 0h0m2 0h0m2 0h0m2 0h0m4 0h0m1 0h0m1 0h0m3 0h0m4 0h0m8 0h0m1 0h0m1 0h0m1 0h0m2 0h0m7 0h0m1 0h0m1 0h0m1 0h0m1 0h0m2 0h0m3 0h0m1 0h0m1 0h0m4 0h0m1 0h0m3 0h0m3 0h0m1 0h0m1 0h0m23 0h0m-102 1h0m7 0h0m5 0h0m5 0h0m1 0h0m9 0h0m3 0h0m2 0h0m4 0h0m1 0h0m2 0h0m2 0h0m2 0h0m3 0h0m1 0h0m3 0h0m2 0h0m1 0h0m1 0h0m1 0h0m1 0h0m2 0h0m1 0h0m3 0h0m1 0h0m1 0h0m1 0h0m2 0h0m1 0h0m1 0h0m3 0h0m1 0h0m1 0h0m1 0h0m2 0h0m1 0h0m1 0h0m5 0h0m1 0h0m-94 1h0m9 0h0m11 0h0m6 0h0m3 0h0m2 0h0m6 0h0m4 0h0m8 0h0m1 0h0m5 0h0m1 0h0m1 0h0m2 0h0m2 0h0m1 0h0m1 0h0m1 0h0m1 0h0m1 0h0m1 0h0m1 0h0m1 0h0m1 0h0m2 0h0m1 0h0m3 0h0m3 0h0m3 0h0m4 0h0m10 0h0m3 0h0m-73 1h0m1 0h0m2 0h0m1 0h0m5 0h0m2 0h0m5 0h0m2 0h0m3 0h0m1 0h0m17 0h0m4 0h0m3 0h0m1 0h0m3 0h0m1 0h0m1 0h0m2 0h0m2 0h0m5 0h0m13 0h0m5 0h0m-96 1h0m22 0h0m2 0h0m2 0h0m2 0h0m3 0h0m1 0h0m3 0h0m1 0h0m5 0h0m2 0h0m1 0h0m2 0h0m3 0h0m4 0h0m4 0h0m4 0h0m2 0h0m1 0h0m2 0h0m1 0h0m1 0h0m1 0h0m5 0h0m2 0h0m1 0h0m1 0h0m13 0h0m-76 1h0m9 0h0m2 0h0m1 0h0m9 0h0m1 0h0m1 0h0m9 0h0m4 0h0m1 0h0m2 0h0m1 0h0m3 0h0m2 0h0m1 0h0m1 0h0m5 0h0m5 0h0m7 0h0m18 0h0m-86 1h0m11 0h0m3 0h0m1 0h0m7 0h0m4 0h0m4 0h0m1 0h0m4 0h0m6 0h0m2 0h0m1 0h0m3 0h0m1 0h0m1 0h0m13 0h0m3 0h0m11 0h0m1 0h0m2 0h0m-79 1h0m5 0h0m2 0h0m2 0h0m13 0h0m2 0h0m3 0h0m2 0h0m2 0h0m4 0h0m4 0h0m5 0h0m1 0h0m1 0h0m9 0h0m12 0h0m18 0h0m1 0h0m-137 1h0m36 0h0m16 0h0m6 0h0m4 0h0m4 0h0m1 0h0m6 0h0m2 0h0m2 0h0m3 0h0m4 0h0m1 0h0m4 0h0m2 0h0m2 0h0m1 0h0m1 0h0m10 0h0m4 0h0m1 0h0m3 0h0m2 0h0m5 0h0m-78 1h0m9 0h0m8 0h0m5 0h0m5 0h0m5 0h0m11 0h0m3 0h0m1 0h0m4 0h0m1 0h0m3 0h0m1 0h0m2 0h0m2 0h0m8 0h0m5 0h0m8 0h0m1 0h0m11 0h0m-132 1h0m44 0h0m2 0h0m4 0h0m5 0h0m3 0h0m1 0h0m1 0h0m5 0h0m1 0h0m5 0h0m2 0h0m2 0h0m2 0h0m2 0h0m4 0h0m1 0h0m1 0h0m1 0h0m4 0h0m1 0h0m1 0h0m1 0h0m3 0h0m3 0h0m7 0h0m1 0h0m2 0h0m5 0h0m2 0h0" transform="translate(0.75 0.75)" stroke="#3b4aae" stroke-width="1.3" stroke-linecap="square" opacity="1.0" fill="none"/><path d="M200 13h0m48 0h0m48 11h0m-111 15h0m65 0h0m-16 5h0m48 1h0m-112 4h0m150 0h0m-23 11h0m14 1h0m-70 5h0m46 1h0m10 7h0m-56 3h0m52 3h0m-109 5h0m-3 1h0m-5 2h0m22 3h0m-25 1h0m20 0h0m-7 1h0m-15 1h0m44 1h0m-17 3h0m-20 2h0m5 1h0m-11 1h0m15 0h0m5 0h0m46 0h0m41 0h0m12 3h0m-93 1h0m10 0h0m111 0h0m-122 1h0m66 0h0m3 0h0m-94 1h0m15 1h0m126 0h0m-128 1h0m115 0h0m-104 1h0m38 0h0m-37 2h0m107 0h0m3 0h0m-94 1h0m79 0h0m27 0h0m-154 1h0m75 0h0m74 0h0m1 0h0m-148 1h0m9 0h0m7 0h0m121 0h0m5 0h0m-141 1h0m131 0h0m13 0h0m7 0h0m-13 1h0m6 0h0m1 0h0m6 0h0m-149 1h0m114 0h0m16 0h0m4 0h0m4 0h0m-136 1h0m15 0h0m68 0h0m46 0h0m5 0h0m5 0h0m3 0h0m8 0h0m-148 1h0m8 0h0m15 0h0m90 0h0m23 0h0m1 0h0m1 0h0m6 0h0m-139 1h0m108 0h0m-124 1h0m7 0h0m27 0h0m53 0h0m44 0h0m16 0h0m-133 1h0m19 0h0m-32 1h0m4 0h0m5 0h0m4 0h0m9 0h0m115 0h0m4 0h0m12 0h0m-154 1h0m8 0h0m8 0h0m7 0h0m1 0h0m1 0h0m107 0h0m4 0h0m1 0h0m1 0h0m3 0h0m1 0h0m4 0h0m-127 1h0m13 0h0m3 0h0m45 0h0m63 0h0m-143 1h0m2 0h0m1 0h0m9 0h0m2 0h0m3 0h0m4 0h0m2 0h0m2 0h0m2 0h0m7 0h0m87 0h0m4 0h0m5 0h0m2 0h0m4 0h0m10 0h0m-146 1h0m16 0h0m118 0h0m2 0h0m2 0h0m-127 1h0m4 0h0m2 0h0m1 0h0m5 0h0m21 0h0m59 0h0m5 0h0m13 0h0m23 0h0m8 0h0m-152 1h0m6 0h0m6 0h0m8 0h0m3 0h0m117 0h0m-137 1h0m1 0h0m6 0h0m5 0h0m8 0h0m105 0h0m6 0h0m5 0h0m2 0h0m1 0h0m1 0h0m-135 1h0m1 0h0m5 0h0m1 0h0m8 0h0m76 0h0m36 0h0m3 0h0m-136 1h0m2 0h0m4 0h0m3 0h0m3 0h0m1 0h0m1 0h0m4 0h0m8 0h0m2 0h0m16 0h0m65 0h0m10 0h0m1 0h0m10 0h0m5 0h0m-136 1h0m5 0h0m5 0h0m2 0h0m2 0h0m2 0h0m3 0h0m104 0h0m6 0h0m7 0h0m10 0h0m-145 1h0m4 0h0m6 0h0m14 0h0m36 0h0m31 0h0m18 0h0m17 0h0m9 0h0m-133 1h0m7 0h0m1 0h0m1 0h0m1 0h0m8 0h0m1 0h0m1 0h0m13 0h0m2 0h0m69 0h0m8 0h0m10 0h0m3 0h0m-124 1h0m1 0h0m118 0h0m9 0h0m-121 1h0m1 0h0m3 0h0m6 0h0m5 0h0m92 0h0m2 0h0m7 0h0m3 0h0m-126 1h0m1 0h0m7 0h0m3 0h0m4 0h0m2 0h0m85 0h0m9 0h0m4 0h0m4 0h0m18 0h0m-136 1h0m4 0h0m1 0h0m1 0h0m2 0h0m2 0h0m9 0h0m4 0h0m50 0h0m15 0h0m16 0h0m17 0h0m18 0h0m-143 1h0m6 0h0m3 0h0m3 0h0m4 0h0m1 0h0m4 0h0m33 0h0m28 0h0m34 0h0m1 0h0m7 0h0m-116 1h0m1 0h0m2 0h0m2 0h0m9 0h0m2 0h0m92 0h0m1 0h0m10 0h0m1 0h0m-129 1h0m14 0h0m6 0h0m15 0h0m33 0h0m22 0h0m14 0h0m3 0h0m11 0h0m-111 1h0m1 0h0m3 0h0m4 0h0m6 0h0m3 0h0m1 0h0m2 0h0m18 0h0m52 0h0m2 0h0m4 0h0m4 0h0m5 0h0m2 0h0m1 0h0m7 0h0m5 0h0m6 0h0m-125 1h0m4 0h0m1 0h0m1 0h0m13 0h0m4 0h0m44 0h0m14 0h0m11 0h0m1 0h0m3 0h0m5 0h0m1 0h0m2 0h0m7 0h0m9 0h0m2 0h0m8 0h0m-137 1h0m1 0h0m3 0h0m2 0h0m4 0h0m6 0h0m5 0h0m1 0h0m1 0h0m5 0h0m1 0h0m46 0h0m14 0h0m2 0h0m6 0h0m5 0h0m2 0h0m-100 1h0m7 0h0m2 0h0m2 0h0m4 0h0m2 0h0m50 0h0m5 0h0m2 0h0m3 0h0m1 0h0m2 0h0m1 0h0m1 0h0m1 0h0m6 0h0m6 0h0m3 0h0m3 0h0m13 0h0m6 0h0m3 0h0m1 0h0m-124 1h0m4 0h0m2 0h0m2 0h0m4 0h0m2 0h0m6 0h0m1 0h0m44 0h0m1 0h0m9 0h0m2 0h0m4 0h0m5 0h0m3 0h0m1 0h0m2 0h0m1 0h0m5 0h0m2 0h0m1 0h0m1 0h0m10 0h0m7 0h0m3 0h0m3 0h0m-117 1h0m4 0h0m2 0h0m15 0h0m20 0h0m4 0h0m2 0h0m3 0h0m11 0h0m6 0h0m1 0h0m5 0h0m1 0h0m1 0h0m3 0h0m3 0h0m1 0h0m2 0h0m3 0h0m4 0h0m5 0h0m5 0h0m2 0h0m7 0h0m21 0h0m-137 1h0m3 0h0m3 0h0m8 0h0m7 0h0m6 0h0m27 0h0m7 0h0m1 0h0m4 0h0m7 0h0m2 0h0m1 0h0m1 0h0m1 0h0m4 0h0m3 0h0m1 0h0m1 0h0m4 0h0m1 0h0m1 0h0m2 0h0m5 0h0m2 0h0m1 0h0m14 0h0m-117 1h0m5 0h0m13 0h0m2 0h0m3 0h0m2 0h0m3 0h0m7 0h0m27 0h0m5 0h0m2 0h0m2 0h0m3 0h0m7 0h0m2 0h0m1 0h0m1 0h0m1 0h0m5 0h0m2 0h0m1 0h0m2 0h0m1 0h0m5 0h0m3 0h0m1 0h0m2 0h0m-110 1h0m6 0h0m6 0h0m3 0h0m2 0h0m1 0h0m30 0h0m15 0h0m5 0h0m3 0h0m2 0h0m3 0h0m1 0h0m4 0h0m1 0h0m5 0h0m1 0h0m1 0h0m5 0h0m1 0h0m6 0h0m1 0h0m3 0h0m5 0h0m4 0h0m-113 1h0m2 0h0m9 0h0m1 0h0m33 0h0m17 0h0m1 0h0m2 0h0m2 0h0m2 0h0m3 0h0m2 0h0m1 0h0m1 0h0m1 0h0m2 0h0m1 0h0m3 0h0m1 0h0m1 0h0m5 0h0m3 0h0m1 0h0m2 0h0m2 0h0m-98 1h0m3 0h0m4 0h0m4 0h0m18 0h0m33 0h0m10 0h0m6 0h0m5 0h0m6 0h0m1 0h0m3 0h0m1 0h0m2 0h0m4 0h0m1 0h0m1 0h0m1 0h0m1 0h0m2 0h0m3 0h0m1 0h0m14 0h0m-118 1h0m5 0h0m30 0h0m4 0h0m10 0h0m2 0h0m7 0h0m4 0h0m3 0h0m4 0h0m2 0h0m4 0h0m6 0h0m1 0h0m5 0h0m15 0h0m12 0h0m-124 1h0m8 0h0m3 0h0m5 0h0m1 0h0m10 0h0m2 0h0m42 0h0m2 0h0m6 0h0m4 0h0m1 0h0m1 0h0m2 0h0m5 0h0m11 0h0m12 0h0m-106 1h0m1 0h0m4 0h0m4 0h0m1 0h0m7 0h0m46 0h0m9 0h0m1 0h0m6 0h0m3 0h0m14 0h0m2 0h0m5 0h0m17 0h0m-123 1h0m3 0h0m3 0h0m8 0h0m3 0h0m9 0h0m1 0h0m4 0h0m2 0h0m31 0h0m3 0h0m10 0h0m12 0h0m3 0h0m1 0h0m3 0h0m16 0h0m-116 1h0m5 0h0m6 0h0m60 0h0m12 0h0m20 0h0m2 0h0m-76 1h0m36 0h0m29 0h0m6 0h0m-105 1h0m9 0h0m12 0h0m2 0h0m12 0h0m50 0h0m27 0h0m12 0h0m-117 1h0m1 0h0m4 0h0m1 0h0m11 0h0m12 0h0m22 0h0m11 0h0m12 0h0m2 0h0m3 0h0m20 0h0m9 0h0m-113 1h0m16 0h0m33 0h0m13 0h0m15 0h0m9 0h0m6 0h0m7 0h0m3 1h0m10 0h0m-92 1h0m91 0h0m-111 1h0m8 0h0m2 0h0m5 0h0m1 0h0m3 0h0m3 0h0m1 0h0m4 0h0m6 0h0" transform="translate(0.75 0.75)" stroke="#4656b4" stroke-width="1.15" stroke-linecap="square" opacity="1.0" fill="none"/><path d="M163 45h0m0 1h0m0 2h0m0 1h0m0 1h0m0 2h0m0 1h0m0 1h0m0 2h0m0 1h0m0 2h0m0 1h0m0 1h0m0 1h0m0 1h0m0 1h0m0 1h0m0 1h0m0 2h0m0 2h0m0 1h0m0 2h0m0 1h0m0 1h0m0 1h0m0 2h0m0 1h0m0 1h0m0 1h0m0 1h0m0 4h0m0 1h0m0 1h0m0 1h0m0 2h0m0 1h0m0 3h0m0 1h0m0 1h0m0 2h0m0 1h0m0 2h0m0 1h0m0 1h0m0 1h0m0 1h0m0 1h0m0 1h0m0 1h0m0 1h0m0 2h0m0 1h0m0 1h0m0 1h0m0 1h0m0 1h0m0 2h0m0 2h0m0 1h0m0 1h0m0 1h0m0 1h0m0 1h0m0 1h0m0 1h0m0 3h0m0 1h0m0 1h0m0 1h0m0 1h0m0 1h0m0 1h0m0 1h0m0 3h0m0 1h0m0 1h0m0 1h0m0 1h0m0 1h0m0 1h0m0 1h0m0 1h0m0 1h0m0 1h0m0 2h0m0 1h0m0 2h0m0 1h0m0 1h0m0 1h0m0 1h0m0 2h0m0 2h0m0 1h0m0 1h0m0 1h0" transform="translate(0.75 0.75)" stroke="#2a3590" stroke-width="1.6" stroke-linecap="square" opacity="1.0" fill="none"/><ellipse cx="337.5" cy="135" rx="19.5" ry="14" transform="rotate(-40 337.5 135)" fill="none" stroke="#2a2a2a" stroke-width="0.8"/><ellipse cx="358.6" cy="151.5" rx="20" ry="9.5" transform="rotate(-8 358.6 151.5)" fill="none" stroke="#2a2a2a" stroke-width="0.8"/><line x1="163.3" y1="12.7" x2="434.7" y2="12.7" stroke="#222" stroke-width="1.6"/><line x1="332" y1="12.399999999999999" x2="340" y2="12.399999999999999" stroke="#000" stroke-width="2.2"/><line x1="163.3" y1="11.899999999999999" x2="163.3" y2="168.8" stroke="#1a1a3a" stroke-width="1.6"/><line x1="163.3" y1="168.8" x2="434.7" y2="168.8" stroke="#333" stroke-width="1.3"/><line x1="434.7" y1="12.7" x2="434.7" y2="168.8" stroke="#ccc" stroke-width="0.8"/><g transform="translate(203.1 186.8) scale(0.72 1)"><text x="0" y="0" font-family="Liberation Sans" font-size="8.5" text-anchor="middle" fill="#222">10<tspan dy="-6.1" font-size="6.4">2</tspan></text></g><g transform="translate(271.0 186.8) scale(0.72 1)"><text x="0" y="0" font-family="Liberation Sans" font-size="8.5" text-anchor="middle" fill="#222">10<tspan dy="-6.1" font-size="6.4">3</tspan></text></g><g transform="translate(338.9 186.8) scale(0.72 1)"><text x="0" y="0" font-family="Liberation Sans" font-size="8.5" text-anchor="middle" fill="#222">10<tspan dy="-6.1" font-size="6.4">4</tspan></text></g><g transform="translate(406.7 186.8) scale(0.72 1)"><text x="0" y="0" font-family="Liberation Sans" font-size="8.5" text-anchor="middle" fill="#222">10<tspan dy="-6.1" font-size="6.4">5</tspan></text></g><path d="M167.2 168.8v4.5M175.7 168.8v4.5M182.2 168.8v4.5M187.6 168.8v4.5M192.2 168.8v4.5M196.1 168.8v4.5M199.6 168.8v4.5M202.7 168.8v8.5M223.1 168.8v4.5M235.1 168.8v4.5M243.5 168.8v4.5M250.1 168.8v4.5M255.5 168.8v4.5M260.0 168.8v4.5M264.0 168.8v4.5M267.5 168.8v4.5M270.6 168.8v8.5M291.0 168.8v4.5M302.9 168.8v4.5M311.4 168.8v4.5M318.0 168.8v4.5M323.4 168.8v4.5M327.9 168.8v4.5M331.9 168.8v4.5M335.3 168.8v4.5M338.4 168.8v8.5M358.9 168.8v4.5M370.8 168.8v4.5M379.3 168.8v4.5M385.9 168.8v4.5M391.3 168.8v4.5M395.8 168.8v4.5M399.7 168.8v4.5M403.2 168.8v4.5M406.3 168.8v8.5M426.8 168.8v4.5" stroke="#333" stroke-width="1"/><path d="M163.3 169.2h-5.0M163.3 163.2h-3.0M163.3 157.3h-3.0M163.3 151.3h-3.0M163.3 145.3h-3.0M163.3 139.3h-5.0M163.3 133.4h-3.0M163.3 127.4h-3.0M163.3 121.4h-3.0M163.3 115.5h-3.0M163.3 109.5h-5.0M163.3 103.5h-3.0M163.3 97.6h-3.0M163.3 91.6h-3.0M163.3 85.6h-3.0M163.3 79.6h-5.0M163.3 73.7h-3.0M163.3 67.7h-3.0M163.3 61.7h-3.0M163.3 55.8h-3.0M163.3 49.8h-5.0M163.3 43.8h-3.0M163.3 37.9h-3.0M163.3 31.9h-3.0M163.3 25.9h-3.0M163.3 19.9h-5.0M163.3 14.0h-3.0" stroke="#333" stroke-width="1"/><g transform="translate(157.8 139.3) rotate(-90) scale(0.82 1)"><text x="0" y="0" font-family="Liberation Sans" font-size="8.2" text-anchor="middle" fill="#111" stroke="#111" stroke-width="0.35">50</text></g><g transform="translate(157.8 109.5) rotate(-90) scale(0.82 1)"><text x="0" y="0" font-family="Liberation Sans" font-size="8.2" text-anchor="middle" fill="#111" stroke="#111" stroke-width="0.35">100</text></g><g transform="translate(157.8 79.6) rotate(-90) scale(0.82 1)"><text x="0" y="0" font-family="Liberation Sans" font-size="8.2" text-anchor="middle" fill="#111" stroke="#111" stroke-width="0.35">150</text></g><g transform="translate(157.8 49.8) rotate(-90) scale(0.82 1)"><text x="0" y="0" font-family="Liberation Sans" font-size="8.2" text-anchor="middle" fill="#111" stroke="#111" stroke-width="0.35">200</text></g><g transform="translate(157.8 19.9) rotate(-90) scale(0.82 1)"><text x="0" y="0" font-family="Liberation Sans" font-size="8.2" text-anchor="middle" fill="#111" stroke="#111" stroke-width="0.35">250</text></g><text x="264" y="114.5" font-family="Liberation Serif" font-size="15" font-weight="normal" text-anchor="start">Cyt.</text><text x="367" y="129.3" font-family="Liberation Serif" font-size="15" font-weight="normal" text-anchor="start">Lymph</text><text x="246.5" y="201.9" font-family="Liberation Serif" font-size="16" font-weight="normal" text-anchor="start">CD45 FITC</text><text transform="translate(143.2 97.2) rotate(-90)" font-family="Liberation Serif" font-size="17" text-anchor="middle">SSC-A</text><text x="120.5" y="24" font-family="Liberation Sans" font-size="15" font-weight="bold" text-anchor="start">A</text><path d="M161 257h0m17 6h0m-3 1h0m1 0h0m1 0h0m-8 1h0m2 0h0m1 0h0m2 0h0m1 0h0m1 0h0m1 0h0m1 0h0m1 0h0m1 0h0m1 0h0m1 0h0m3 0h0m-20 1h0m1 0h0m2 0h0m1 0h0m1 0h0m1 0h0m1 0h0m1 0h0m1 0h0m1 0h0m1 0h0m1 0h0m1 0h0m1 0h0m1 0h0m1 0h0m1 0h0m1 0h0m1 0h0m1 0h0m-19 1h0m3 0h0m1 0h0m1 0h0m1 0h0m1 0h0m1 0h0m1 0h0m1 0h0m1 0h0m1 0h0m1 0h0m1 0h0m1 0h0m1 0h0m1 0h0m1 0h0m1 0h0m1 0h0m-32 1h0m8 0h0m2 0h0m1 0h0m2 0h0m1 0h0m1 0h0m1 0h0m1 0h0m1 0h0m1 0h0m1 0h0m1 0h0m1 0h0m1 0h0m1 0h0m1 0h0m1 0h0m1 0h0m1 0h0m1 0h0m1 0h0m1 0h0m1 0h0m-27 1h0m3 0h0m3 0h0m1 0h0m1 0h0m1 0h0m1 0h0m1 0h0m1 0h0m1 0h0m1 0h0m1 0h0m1 0h0m1 0h0m1 0h0m1 0h0m1 0h0m1 0h0m1 0h0m1 0h0m1 0h0m1 0h0m1 0h0m1 0h0m1 0h0m1 0h0m-26 1h0m1 0h0m1 0h0m1 0h0m1 0h0m1 0h0m1 0h0m1 0h0m1 0h0m1 0h0m1 0h0m1 0h0m1 0h0m1 0h0m1 0h0m1 0h0m1 0h0m1 0h0m1 0h0m1 0h0m1 0h0m1 0h0m1 0h0m1 0h0m1 0h0m1 0h0m1 0h0m-29 1h0m1 0h0m2 0h0m1 0h0m1 0h0m1 0h0m1 0h0m1 0h0m1 0h0m1 0h0m1 0h0m2 0h0m1 0h0m1 0h0m1 0h0m1 0h0m1 0h0m1 0h0m1 0h0m1 0h0m1 0h0m1 0h0m1 0h0m1 0h0m1 0h0m1 0h0m1 0h0m1 0h0m-29 1h0m2 0h0m1 0h0m1 0h0m1 0h0m1 0h0m1 0h0m1 0h0m1 0h0m1 0h0m1 0h0m1 0h0m1 0h0m1 0h0m1 0h0m1 0h0m1 0h0m1 0h0m1 0h0m1 0h0m1 0h0m1 0h0m1 0h0m1 0h0m1 0h0m1 0h0m1 0h0m1 0h0m1 0h0m-29 1h0m1 0h0m1 0h0m1 0h0m1 0h0m1 0h0m1 0h0m1 0h0m1 0h0m1 0h0m1 0h0m1 0h0m1 0h0m1 0h0m2 0h0m1 0h0m1 0h0m1 0h0m1 0h0m1 0h0m1 0h0m1 0h0m1 0h0m1 0h0m1 0h0m1 0h0m1 0h0m1 0h0m2 0h0m-30 1h0m1 0h0m1 0h0m1 0h0m1 0h0m1 0h0m1 0h0m1 0h0m1 0h0m1 0h0m1 0h0m1 0h0m1 0h0m1 0h0m1 0h0m1 0h0m1 0h0m1 0h0m1 0h0m1 0h0m1 0h0m1 0h0m1 0h0m1 0h0m1 0h0m1 0h0m1 0h0m1 0h0m1 0h0m1 0h0m2 0h0m2 0h0m-46 1h0m12 0h0m1 0h0m1 0h0m1 0h0m1 0h0m1 0h0m1 0h0m1 0h0m1 0h0m2 0h0m1 0h0m1 0h0m1 0h0m1 0h0m1 0h0m1 0h0m1 0h0m1 0h0m1 0h0m1 0h0m1 0h0m1 0h0m1 0h0m2 0h0m1 0h0m1 0h0m1 0h0m1 0h0m1 0h0m1 0h0m1 0h0m-33 1h0m1 0h0m1 0h0m1 0h0m1 0h0m1 0h0m1 0h0m1 0h0m1 0h0m1 0h0m1 0h0m1 0h0m1 0h0m2 0h0m1 0h0m1 0h0m1 0h0m1 0h0m1 0h0m1 0h0m1 0h0m1 0h0m1 0h0m1 0h0m1 0h0m1 0h0m1 0h0m1 0h0m1 0h0m1 0h0m1 0h0m1 0h0m1 0h0m-38 1h0m4 0h0m1 0h0m1 0h0m1 0h0m1 0h0m1 0h0m1 0h0m1 0h0m1 0h0m1 0h0m1 0h0m1 0h0m1 0h0m1 0h0m1 0h0m1 0h0m1 0h0m1 0h0m1 0h0m1 0h0m1 0h0m1 0h0m1 0h0m1 0h0m1 0h0m1 0h0m1 0h0m1 0h0m1 0h0m1 0h0m1 0h0m1 0h0m1 0h0m1 0h0m2 0h0m-35 1h0m1 0h0m1 0h0m1 0h0m1 0h0m1 0h0m1 0h0m1 0h0m1 0h0m1 0h0m2 0h0m1 0h0m1 0h0m1 0h0m1 0h0m1 0h0m1 0h0m1 0h0m1 0h0m1 0h0m1 0h0m1 0h0m1 0h0m1 0h0m1 0h0m1 0h0m1 0h0m1 0h0m1 0h0m1 0h0m1 0h0m1 0h0m1 0h0m1 0h0m-36 1h0m1 0h0m1 0h0m1 0h0m1 0h0m1 0h0m1 0h0m1 0h0m1 0h0m1 0h0m1 0h0m1 0h0m1 0h0m1 0h0m1 0h0m1 0h0m1 0h0m1 0h0m1 0h0m1 0h0m1 0h0m1 0h0m1 0h0m1 0h0m1 0h0m1 0h0m1 0h0m1 0h0m1 0h0m1 0h0m1 0h0m1 0h0m1 0h0m1 0h0m1 0h0m1 0h0m-35 1h0m1 0h0m1 0h0m1 0h0m1 0h0m1 0h0m1 0h0m1 0h0m1 0h0m1 0h0m1 0h0m1 0h0m1 0h0m1 0h0m1 0h0m1 0h0m1 0h0m1 0h0m1 0h0m1 0h0m1 0h0m1 0h0m1 0h0m1 0h0m1 0h0m1 0h0m1 0h0m1 0h0m1 0h0m1 0h0m2 0h0m1 0h0m1 0h0m1 0h0m-34 1h0m1 0h0m1 0h0m1 0h0m1 0h0m1 0h0m1 0h0m1 0h0m1 0h0m1 0h0m1 0h0m1 0h0m1 0h0m1 0h0m1 0h0m1 0h0m1 0h0m1 0h0m1 0h0m1 0h0m1 0h0m1 0h0m1 0h0m1 0h0m1 0h0m1 0h0m1 0h0m1 0h0m1 0h0m1 0h0m1 0h0m1 0h0m1 0h0m1 0h0m1 0h0m1 0h0m1 0h0m-36 1h0m1 0h0m1 0h0m1 0h0m2 0h0m1 0h0m1 0h0m1 0h0m1 0h0m1 0h0m1 0h0m1 0h0m1 0h0m1 0h0m1 0h0m1 0h0m1 0h0m1 0h0m1 0h0m1 0h0m1 0h0m1 0h0m1 0h0m1 0h0m1 0h0m1 0h0m1 0h0m1 0h0m1 0h0m1 0h0m1 0h0m1 0h0m1 0h0m1 0h0m-35 1h0m1 0h0m1 0h0m1 0h0m1 0h0m1 0h0m2 0h0m2 0h0m1 0h0m1 0h0m1 0h0m1 0h0m1 0h0m1 0h0m2 0h0m1 0h0m1 0h0m1 0h0m1 0h0m1 0h0m1 0h0m1 0h0m1 0h0m1 0h0m1 0h0m1 0h0m1 0h0m1 0h0m1 0h0m1 0h0m1 0h0m1 0h0m1 0h0m1 0h0m1 0h0m-37 1h0m1 0h0m1 0h0m1 0h0m1 0h0m1 0h0m1 0h0m1 0h0m1 0h0m1 0h0m1 0h0m1 0h0m1 0h0m1 0h0m1 0h0m1 0h0m1 0h0m1 0h0m1 0h0m1 0h0m1 0h0m1 0h0m1 0h0m1 0h0m1 0h0m1 0h0m1 0h0m1 0h0m1 0h0m1 0h0m1 0h0m1 0h0m1 0h0m1 0h0m1 0h0m2 0h0m-37 1h0m1 0h0m1 0h0m1 0h0m1 0h0m1 0h0m1 0h0m1 0h0m1 0h0m1 0h0m1 0h0m1 0h0m1 0h0m1 0h0m1 0h0m1 0h0m1 0h0m1 0h0m1 0h0m1 0h0m1 0h0m1 0h0m1 0h0m1 0h0m1 0h0m1 0h0m1 0h0m1 0h0m1 0h0m1 0h0m1 0h0m1 0h0m1 0h0m1 0h0m1 0h0m1 0h0m1 0h0m1 0h0m2 0h0m4 0h0m-43 1h0m1 0h0m1 0h0m1 0h0m2 0h0m1 0h0m1 0h0m1 0h0m1 0h0m1 0h0m1 0h0m1 0h0m2 0h0m1 0h0m1 0h0m1 0h0m1 0h0m1 0h0m1 0h0m1 0h0m1 0h0m1 0h0m1 0h0m1 0h0m1 0h0m1 0h0m1 0h0m1 0h0m1 0h0m1 0h0m1 0h0m1 0h0m1 0h0m1 0h0m1 0h0m-35 1h0m1 0h0m1 0h0m1 0h0m1 0h0m1 0h0m1 0h0m1 0h0m1 0h0m1 0h0m1 0h0m1 0h0m1 0h0m1 0h0m1 0h0m1 0h0m1 0h0m1 0h0m1 0h0m1 0h0m1 0h0m1 0h0m1 0h0m1 0h0m1 0h0m1 0h0m1 0h0m1 0h0m1 0h0m1 0h0m1 0h0m1 0h0m1 0h0m1 0h0m-34 1h0m1 0h0m1 0h0m1 0h0m1 0h0m1 0h0m1 0h0m1 0h0m1 0h0m1 0h0m1 0h0m1 0h0m1 0h0m1 0h0m1 0h0m1 0h0m1 0h0m1 0h0m1 0h0m1 0h0m1 0h0m1 0h0m1 0h0m1 0h0m1 0h0m1 0h0m1 0h0m1 0h0m1 0h0m1 0h0m1 0h0m1 0h0m1 0h0m1 0h0m1 0h0m1 0h0m-35 1h0m1 0h0m1 0h0m1 0h0m1 0h0m1 0h0m1 0h0m1 0h0m1 0h0m1 0h0m1 0h0m1 0h0m1 0h0m1 0h0m1 0h0m1 0h0m1 0h0m1 0h0m1 0h0m1 0h0m1 0h0m1 0h0m1 0h0m1 0h0m1 0h0m1 0h0m1 0h0m1 0h0m1 0h0m1 0h0m1 0h0m1 0h0m1 0h0m1 0h0m1 0h0m-32 1h0m1 0h0m1 0h0m1 0h0m1 0h0m1 0h0m1 0h0m1 0h0m1 0h0m1 0h0m1 0h0m1 0h0m1 0h0m1 0h0m2 0h0m1 0h0m1 0h0m1 0h0m1 0h0m1 0h0m1 0h0m1 0h0m1 0h0m1 0h0m1 0h0m1 0h0m1 0h0m1 0h0m1 0h0m1 0h0m-32 1h0m1 0h0m1 0h0m1 0h0m1 0h0m1 0h0m1 0h0m1 0h0m1 0h0m1 0h0m1 0h0m1 0h0m1 0h0m1 0h0m1 0h0m1 0h0m1 0h0m1 0h0m1 0h0m1 0h0m1 0h0m1 0h0m1 0h0m1 0h0m1 0h0m1 0h0m1 0h0m1 0h0m1 0h0m1 0h0m1 0h0m1 0h0m1 0h0m1 0h0m-33 1h0m1 0h0m1 0h0m1 0h0m1 0h0m1 0h0m1 0h0m2 0h0m1 0h0m1 0h0m1 0h0m1 0h0m1 0h0m1 0h0m1 0h0m1 0h0m1 0h0m1 0h0m1 0h0m1 0h0m1 0h0m1 0h0m1 0h0m1 0h0m1 0h0m1 0h0m1 0h0m1 0h0m1 0h0m1 0h0m1 0h0m1 0h0m2 0h0m-36 1h0m3 0h0m1 0h0m1 0h0m1 0h0m1 0h0m1 0h0m1 0h0m1 0h0m1 0h0m1 0h0m1 0h0m1 0h0m1 0h0m1 0h0m1 0h0m1 0h0m1 0h0m1 0h0m1 0h0m1 0h0m1 0h0m1 0h0m1 0h0m1 0h0m1 0h0m1 0h0m1 0h0m1 0h0m1 0h0m1 0h0m2 0h0m-31 1h0m1 0h0m1 0h0m1 0h0m1 0h0m1 0h0m1 0h0m1 0h0m1 0h0m1 0h0m1 0h0m1 0h0m1 0h0m1 0h0m1 0h0m1 0h0m1 0h0m1 0h0m1 0h0m1 0h0m1 0h0m1 0h0m1 0h0m1 0h0m1 0h0m1 0h0m1 0h0m1 0h0m1 0h0m1 0h0m-30 1h0m2 0h0m1 0h0m1 0h0m1 0h0m1 0h0m1 0h0m1 0h0m1 0h0m1 0h0m1 0h0m1 0h0m1 0h0m1 0h0m1 0h0m1 0h0m1 0h0m1 0h0m1 0h0m1 0h0m1 0h0m1 0h0m1 0h0m1 0h0m1 0h0m1 0h0m1 0h0m2 0h0m11 0h0m-40 1h0m3 0h0m1 0h0m1 0h0m1 0h0m1 0h0m1 0h0m1 0h0m1 0h0m1 0h0m1 0h0m2 0h0m1 0h0m1 0h0m1 0h0m1 0h0m1 0h0m1 0h0m1 0h0m1 0h0m1 0h0m1 0h0m1 0h0m1 0h0m1 0h0m1 0h0m-27 1h0m2 0h0m1 0h0m1 0h0m1 0h0m1 0h0m1 0h0m1 0h0m1 0h0m1 0h0m1 0h0m1 0h0m1 0h0m1 0h0m1 0h0m1 0h0m1 0h0m1 0h0m1 0h0m1 0h0m1 0h0m1 0h0m1 0h0m1 0h0m1 0h0m1 0h0m1 0h0m-24 1h0m1 0h0m1 0h0m1 0h0m1 0h0m1 0h0m1 0h0m1 0h0m1 0h0m1 0h0m1 0h0m1 0h0m1 0h0m1 0h0m1 0h0m1 0h0m1 0h0m1 0h0m1 0h0m1 0h0m1 0h0m1 0h0m1 0h0m10 0h0m-32 1h0m1 0h0m1 0h0m1 0h0m1 0h0m1 0h0m1 0h0m1 0h0m1 0h0m1 0h0m1 0h0m1 0h0m1 0h0m1 0h0m1 0h0m1 0h0m1 0h0m1 0h0m1 0h0m1 0h0m-16 1h0m1 0h0m1 0h0m1 0h0m1 0h0m1 0h0m1 0h0m1 0h0m1 0h0m1 0h0m2 0h0m1 0h0m1 0h0m1 0h0m1 0h0m9 0h0m-32 1h0m2 0h0m1 0h0m4 0h0m1 0h0m1 0h0m3 0h0m4 0h0m2 0h0m-18 1h0m6 0h0m2 0h0m11 0h0m3 0h0m1 0h0m1 0h0m-20 1h0m2 0h0m10 0h0m2 0h0m10 0h0m-26 1h0m3 0h0m2 0h0m9 0h0m2 0h0m2 0h0m4 0h0m5 0h0m1 0h0m-22 1h0m1 0h0m1 0h0m12 0h0m2 0h0m1 0h0m1 0h0m1 0h0m1 0h0m3 0h0m-24 1h0m3 0h0m1 0h0m1 0h0m4 0h0m1 0h0m7 0h0m1 0h0m2 0h0m2 0h0m1 0h0m1 0h0m-30 1h0m10 0h0m6 0h0m2 0h0m2 0h0m9 0h0m-23 1h0m13 0h0m8 0h0m2 0h0m-29 1h0m5 0h0m4 0h0m8 0h0m3 0h0m2 0h0m-20 1h0m12 0h0m4 0h0m1 0h0m5 0h0m-23 1h0m1 0h0m8 0h0m1 0h0m10 0h0m2 0h0m1 0h0m-20 1h0m3 0h0m3 0h0m6 0h0m1 0h0m2 0h0m5 0h0m1 0h0m1 0h0m-20 1h0m4 0h0m5 0h0m4 0h0m5 0h0m2 0h0m-21 1h0m4 0h0m2 0h0m1 0h0m13 0h0m4 0h0m-19 1h0m3 0h0m4 0h0m3 0h0m7 0h0m-20 1h0m2 0h0m10 0h0m1 0h0m1 0h0m2 0h0m3 0h0m-25 1h0m1 0h0m1 0h0m3 0h0m2 0h0m1 0h0m2 0h0m3 0h0m6 0h0m1 0h0m3 0h0m3 0h0m-27 1h0m5 0h0m1 0h0m4 0h0m8 0h0m1 0h0m1 0h0m1 0h0m6 0h0m4 0h0m-32 1h0m2 0h0m4 0h0m2 0h0m2 0h0m5 0h0m2 0h0m9 0h0m5 0h0m-30 1h0m1 0h0m5 0h0m2 0h0m1 0h0m7 0h0m2 0h0m2 0h0m1 0h0m1 0h0m5 0h0m9 0h0m-35 1h0m5 0h0m1 0h0m1 0h0m1 0h0m1 0h0m2 0h0m1 0h0m1 0h0m1 0h0m2 0h0m1 0h0m1 0h0m1 0h0m1 0h0m1 0h0m3 0h0m1 0h0m2 0h0m1 0h0m2 0h0m-27 1h0m4 0h0m1 0h0m1 0h0m1 0h0m1 0h0m1 0h0m1 0h0m1 0h0m1 0h0m1 0h0m1 0h0m1 0h0m1 0h0m1 0h0m1 0h0m1 0h0m5 0h0m-28 1h0m3 0h0m4 0h0m1 0h0m1 0h0m1 0h0m1 0h0m1 0h0m1 0h0m1 0h0m1 0h0m1 0h0m1 0h0m1 0h0m1 0h0m1 0h0m2 0h0m1 0h0m2 0h0m6 0h0m-25 1h0m1 0h0m1 0h0m1 0h0m1 0h0m1 0h0m1 0h0m1 0h0m1 0h0m2 0h0m1 0h0m1 0h0m1 0h0m1 0h0m1 0h0m1 0h0m1 0h0m2 0h0m1 0h0m-21 1h0m1 0h0m1 0h0m1 0h0m1 0h0m1 0h0m1 0h0m2 0h0m1 0h0m2 0h0m1 0h0m1 0h0m1 0h0m1 0h0m1 0h0m1 0h0m1 0h0m1 0h0m2 0h0m-21 1h0m2 0h0m2 0h0m1 0h0m1 0h0m1 0h0m1 0h0m1 0h0m1 0h0m1 0h0m1 0h0m1 0h0m1 0h0m1 0h0m1 0h0m1 0h0m1 0h0m1 0h0m1 0h0m1 0h0m-22 1h0m2 0h0m1 0h0m2 0h0m1 0h0m1 0h0m1 0h0m1 0h0m1 0h0m1 0h0m1 0h0m1 0h0m1 0h0m1 0h0m1 0h0m2 0h0m1 0h0m2 0h0m1 0h0m2 0h0m-29 1h0m4 0h0m1 0h0m1 0h0m1 0h0m1 0h0m1 0h0m2 0h0m1 0h0m1 0h0m1 0h0m1 0h0m1 0h0m1 0h0m1 0h0m2 0h0m1 0h0m1 0h0m1 0h0m1 0h0m3 0h0m2 0h0m-26 1h0m1 0h0m1 0h0m1 0h0m1 0h0m1 0h0m1 0h0m1 0h0m1 0h0m1 0h0m1 0h0m1 0h0m1 0h0m1 0h0m1 0h0m1 0h0m1 0h0m1 0h0m1 0h0m1 0h0m1 0h0m1 0h0m1 0h0m1 0h0m1 0h0m1 0h0m-24 1h0m1 0h0m1 0h0m1 0h0m1 0h0m1 0h0m1 0h0m1 0h0m1 0h0m1 0h0m1 0h0m1 0h0m1 0h0m1 0h0m1 0h0m1 0h0m1 0h0m1 0h0m1 0h0m1 0h0m1 0h0m1 0h0m1 0h0m7 0h0m-36 1h0m1 0h0m5 0h0m1 0h0m1 0h0m1 0h0m1 0h0m1 0h0m1 0h0m1 0h0m1 0h0m1 0h0m1 0h0m1 0h0m2 0h0m1 0h0m1 0h0m1 0h0m1 0h0m1 0h0m1 0h0m1 0h0m1 0h0m1 0h0m1 0h0m1 0h0m-25 1h0m3 0h0m1 0h0m1 0h0m1 0h0m1 0h0m1 0h0m1 0h0m1 0h0m1 0h0m1 0h0m1 0h0m1 0h0m1 0h0m1 0h0m1 0h0m1 0h0m1 0h0m1 0h0m1 0h0m1 0h0m1 0h0m1 0h0m1 0h0m1 0h0m1 0h0m2 0h0m6 0h0m-33 1h0m1 0h0m1 0h0m1 0h0m1 0h0m1 0h0m1 0h0m1 0h0m1 0h0m1 0h0m1 0h0m1 0h0m2 0h0m1 0h0m1 0h0m1 0h0m1 0h0m1 0h0m1 0h0m1 0h0m1 0h0m1 0h0m1 0h0m1 0h0m1 0h0m1 0h0m-29 1h0m3 0h0m1 0h0m1 0h0m1 0h0m1 0h0m1 0h0m1 0h0m1 0h0m1 0h0m1 0h0m1 0h0m2 0h0m1 0h0m1 0h0m1 0h0m1 0h0m1 0h0m1 0h0m1 0h0m1 0h0m1 0h0m1 0h0m2 0h0m2 0h0m-27 1h0m1 0h0m1 0h0m1 0h0m1 0h0m1 0h0m1 0h0m1 0h0m1 0h0m1 0h0m1 0h0m1 0h0m1 0h0m1 0h0m1 0h0m1 0h0m1 0h0m1 0h0m1 0h0m2 0h0m1 0h0m1 0h0m1 0h0m1 0h0m1 0h0m1 0h0m2 0h0m-31 1h0m2 0h0m2 0h0m1 0h0m1 0h0m1 0h0m1 0h0m1 0h0m1 0h0m1 0h0m1 0h0m1 0h0m1 0h0m1 0h0m1 0h0m1 0h0m1 0h0m1 0h0m1 0h0m1 0h0m2 0h0m1 0h0m1 0h0m1 0h0m1 0h0m1 0h0m1 0h0m2 0h0m-30 1h0m1 0h0m1 0h0m1 0h0m1 0h0m1 0h0m1 0h0m1 0h0m1 0h0m1 0h0m1 0h0m1 0h0m1 0h0m1 0h0m1 0h0m1 0h0m1 0h0m1 0h0m3 0h0m1 0h0m1 0h0m1 0h0m1 0h0m1 0h0m1 0h0m1 0h0m2 0h0m1 0h0m-32 1h0m1 0h0m1 0h0m2 0h0m1 0h0m1 0h0m1 0h0m1 0h0m1 0h0m1 0h0m1 0h0m1 0h0m1 0h0m1 0h0m1 0h0m1 0h0m1 0h0m1 0h0m1 0h0m1 0h0m1 0h0m1 0h0m1 0h0m1 0h0m1 0h0m1 0h0m1 0h0m1 0h0m1 0h0m2 0h0m1 0h0m1 0h0m-32 1h0m2 0h0m3 0h0m1 0h0m1 0h0m1 0h0m1 0h0m1 0h0m1 0h0m1 0h0m1 0h0m1 0h0m1 0h0m1 0h0m1 0h0m2 0h0m1 0h0m1 0h0m2 0h0m1 0h0m1 0h0m1 0h0m1 0h0m1 0h0m1 0h0m1 0h0m1 0h0m-33 1h0m6 0h0m1 0h0m1 0h0m1 0h0m1 0h0m1 0h0m1 0h0m1 0h0m1 0h0m1 0h0m1 0h0m1 0h0m1 0h0m1 0h0m1 0h0m1 0h0m1 0h0m1 0h0m1 0h0m1 0h0m1 0h0m1 0h0m1 0h0m1 0h0m1 0h0m1 0h0m9 0h0m-39 1h0m3 0h0m1 0h0m1 0h0m1 0h0m1 0h0m1 0h0m1 0h0m1 0h0m1 0h0m1 0h0m1 0h0m1 0h0m2 0h0m1 0h0m1 0h0m1 0h0m1 0h0m1 0h0m1 0h0m1 0h0m1 0h0m1 0h0m1 0h0m1 0h0m1 0h0m1 0h0m1 0h0m1 0h0m-35 1h0m6 0h0m1 0h0m1 0h0m2 0h0m1 0h0m1 0h0m1 0h0m1 0h0m1 0h0m1 0h0m3 0h0m1 0h0m1 0h0m1 0h0m1 0h0m1 0h0m1 0h0m1 0h0m1 0h0m1 0h0m1 0h0m1 0h0m1 0h0m1 0h0m1 0h0m1 0h0m1 0h0m4 0h0m-34 1h0m2 0h0m2 0h0m1 0h0m1 0h0m1 0h0m1 0h0m1 0h0m1 0h0m1 0h0m1 0h0m2 0h0m1 0h0m1 0h0m1 0h0m1 0h0m1 0h0m1 0h0m1 0h0m2 0h0m1 0h0m1 0h0m1 0h0m1 0h0m1 0h0m1 0h0m1 0h0m-30 1h0m2 0h0m1 0h0m1 0h0m1 0h0m1 0h0m1 0h0m1 0h0m1 0h0m1 0h0m1 0h0m1 0h0m1 0h0m2 0h0m1 0h0m1 0h0m1 0h0m1 0h0m1 0h0m1 0h0m1 0h0m1 0h0m1 0h0m1 0h0m1 0h0m1 0h0m1 0h0m1 0h0m1 0h0m-30 1h0m1 0h0m1 0h0m1 0h0m1 0h0m1 0h0m1 0h0m1 0h0m1 0h0m1 0h0m1 0h0m1 0h0m1 0h0m1 0h0m1 0h0m1 0h0m1 0h0m1 0h0m1 0h0m1 0h0m1 0h0m1 0h0m1 0h0m1 0h0m1 0h0m1 0h0m1 0h0m1 0h0m1 0h0m1 0h0m1 0h0m2 0h0m3 0h0m-34 1h0m1 0h0m1 0h0m1 0h0m1 0h0m1 0h0m1 0h0m1 0h0m1 0h0m1 0h0m1 0h0m1 0h0m1 0h0m1 0h0m1 0h0m1 0h0m1 0h0m1 0h0m1 0h0m1 0h0m1 0h0m1 0h0m1 0h0m1 0h0m2 0h0m1 0h0m1 0h0m1 0h0m1 0h0m1 0h0m1 0h0m-31 1h0m1 0h0m2 0h0m2 0h0m1 0h0m1 0h0m1 0h0m1 0h0m1 0h0m1 0h0m1 0h0m1 0h0m2 0h0m1 0h0m1 0h0m1 0h0m1 0h0m1 0h0m1 0h0m1 0h0m1 0h0m1 0h0m1 0h0m1 0h0m1 0h0m1 0h0m1 0h0m1 0h0m1 0h0m1 0h0m-32 1h0m1 0h0m1 0h0m1 0h0m1 0h0m1 0h0m1 0h0m1 0h0m1 0h0m1 0h0m1 0h0m1 0h0m1 0h0m1 0h0m1 0h0m2 0h0m1 0h0m1 0h0m1 0h0m1 0h0m1 0h0m1 0h0m1 0h0m1 0h0m1 0h0m1 0h0m1 0h0m1 0h0m1 0h0m1 0h0m1 0h0m7 0h0m-39 1h0m2 0h0m1 0h0m1 0h0m2 0h0m1 0h0m1 0h0m1 0h0m2 0h0m1 0h0m1 0h0m1 0h0m1 0h0m1 0h0m1 0h0m1 0h0m1 0h0m1 0h0m1 0h0m1 0h0m1 0h0m1 0h0m1 0h0m1 0h0m1 0h0m1 0h0m1 0h0m1 0h0m1 0h0m1 0h0m3 0h0m-33 1h0m1 0h0m1 0h0m2 0h0m1 0h0m1 0h0m1 0h0m1 0h0m1 0h0m1 0h0m1 0h0m1 0h0m1 0h0m1 0h0m1 0h0m1 0h0m1 0h0m1 0h0m1 0h0m1 0h0m1 0h0m1 0h0m1 0h0m1 0h0m1 0h0m1 0h0m1 0h0m1 0h0m1 0h0m7 0h0m-36 1h0m1 0h0m1 0h0m1 0h0m1 0h0m1 0h0m1 0h0m1 0h0m1 0h0m1 0h0m1 0h0m1 0h0m1 0h0m1 0h0m1 0h0m1 0h0m1 0h0m1 0h0m1 0h0m2 0h0m1 0h0m1 0h0m1 0h0m1 0h0m1 0h0m1 0h0m1 0h0m1 0h0m-30 1h0m1 0h0m2 0h0m1 0h0m1 0h0m1 0h0m1 0h0m1 0h0m1 0h0m1 0h0m1 0h0m2 0h0m1 0h0m1 0h0m1 0h0m1 0h0m1 0h0m1 0h0m1 0h0m1 0h0m1 0h0m2 0h0m1 0h0m1 0h0m1 0h0m9 0h0m-37 1h0m1 0h0m2 0h0m1 0h0m1 0h0m1 0h0m1 0h0m1 0h0m1 0h0m1 0h0m1 0h0m1 0h0m1 0h0m1 0h0m1 0h0m1 0h0m1 0h0m1 0h0m1 0h0m1 0h0m1 0h0m1 0h0m1 0h0m1 0h0m1 0h0m1 0h0m1 0h0m1 0h0m1 0h0m1 0h0m1 0h0m7 0h0m-37 1h0m2 0h0m1 0h0m1 0h0m1 0h0m1 0h0m1 0h0m1 0h0m1 0h0m1 0h0m1 0h0m1 0h0m1 0h0m1 0h0m1 0h0m1 0h0m1 0h0m1 0h0m1 0h0m1 0h0m1 0h0m1 0h0m1 0h0m1 0h0m1 0h0m1 0h0m1 0h0m1 0h0m1 0h0m1 0h0m1 0h0m-29 1h0m2 0h0m1 0h0m1 0h0m1 0h0m1 0h0m1 0h0m1 0h0m1 0h0m1 0h0m1 0h0m1 0h0m1 0h0m1 0h0m1 0h0m1 0h0m1 0h0m1 0h0m1 0h0m1 0h0m1 0h0m1 0h0m1 0h0m1 0h0m1 0h0m1 0h0m1 0h0m3 0h0m4 0h0m-35 1h0m2 0h0m1 0h0m1 0h0m1 0h0m1 0h0m1 0h0m1 0h0m1 0h0m1 0h0m1 0h0m1 0h0m1 0h0m1 0h0m1 0h0m1 0h0m1 0h0m1 0h0m1 0h0m1 0h0m1 0h0m1 0h0m1 0h0m1 0h0m1 0h0m1 0h0m1 0h0m1 0h0m1 0h0m1 0h0m2 0h0m-30 1h0m1 0h0m1 0h0m1 0h0m1 0h0m1 0h0m1 0h0m1 0h0m1 0h0m1 0h0m1 0h0m1 0h0m1 0h0m1 0h0m1 0h0m1 0h0m1 0h0m1 0h0m1 0h0m1 0h0m1 0h0m1 0h0m1 0h0m1 0h0m1 0h0m1 0h0m1 0h0m6 0h0m-33 1h0m2 0h0m1 0h0m1 0h0m1 0h0m1 0h0m1 0h0m2 0h0m1 0h0m1 0h0m1 0h0m1 0h0m1 0h0m1 0h0m1 0h0m1 0h0m1 0h0m1 0h0m1 0h0m1 0h0m1 0h0m1 0h0m1 0h0m1 0h0m1 0h0m-27 1h0m1 0h0m2 0h0m1 0h0m3 0h0m1 0h0m1 0h0m1 0h0m1 0h0m1 0h0m1 0h0m1 0h0m1 0h0m1 0h0m1 0h0m1 0h0m1 0h0m1 0h0m1 0h0m1 0h0m1 0h0m1 0h0m2 0h0m1 0h0m1 0h0m1 0h0m5 0h0m-34 1h0m2 0h0m1 0h0m1 0h0m1 0h0m1 0h0m1 0h0m1 0h0m1 0h0m1 0h0m1 0h0m1 0h0m2 0h0m1 0h0m1 0h0m1 0h0m1 0h0m1 0h0m1 0h0m1 0h0m1 0h0m1 0h0m1 0h0m1 0h0m1 0h0m2 0h0m-31 1h0m5 0h0m2 0h0m1 0h0m1 0h0m1 0h0m1 0h0m1 0h0m1 0h0m1 0h0m1 0h0m1 0h0m1 0h0m1 0h0m1 0h0m1 0h0m1 0h0m1 0h0m1 0h0m1 0h0m1 0h0m1 0h0m1 0h0m1 0h0m1 0h0m1 0h0m1 0h0m-30 1h0m5 0h0m1 0h0m2 0h0m1 0h0m1 0h0m1 0h0m1 0h0m1 0h0m1 0h0m1 0h0m1 0h0m1 0h0m1 0h0m1 0h0m1 0h0m1 0h0m1 0h0m1 0h0m1 0h0m1 0h0m1 0h0m1 0h0m2 0h0m1 0h0m-26 1h0m3 0h0m1 0h0m1 0h0m1 0h0m1 0h0m1 0h0m1 0h0m1 0h0m1 0h0m1 0h0m1 0h0m1 0h0m1 0h0m1 0h0m1 0h0m2 0h0m1 0h0m1 0h0m1 0h0m2 0h0m-24 1h0m4 0h0m1 0h0m1 0h0m1 0h0m2 0h0m1 0h0m1 0h0m1 0h0m1 0h0m1 0h0m1 0h0m1 0h0m1 0h0m1 0h0m1 0h0m1 0h0m1 0h0m2 0h0m2 0h0m9 0h0m-32 1h0m1 0h0m2 0h0m1 0h0m1 0h0m1 0h0m1 0h0m1 0h0m1 0h0m1 0h0m1 0h0m1 0h0m2 0h0m1 0h0m1 0h0m2 0h0m1 0h0m1 0h0m2 0h0m-20 1h0m2 0h0m1 0h0m1 0h0m1 0h0m1 0h0m1 0h0m1 0h0m1 0h0m1 0h0m1 0h0m1 0h0m1 0h0m1 0h0m1 0h0m1 0h0m1 0h0m1 0h0m1 0h0m-19 1h0m1 0h0m1 0h0m1 0h0m1 0h0m1 0h0m1 0h0m1 0h0m1 0h0m1 0h0m1 0h0m2 0h0m1 0h0m1 0h0m1 0h0m4 0h0m2 0h0m5 0h0m-24 1h0m2 0h0m1 0h0m1 0h0m1 0h0m1 0h0m1 0h0m1 0h0m1 0h0m1 0h0m1 0h0m1 0h0m1 0h0m1 0h0m2 0h0m-16 1h0m1 0h0m1 0h0m1 0h0m1 0h0m1 0h0m1 0h0m1 0h0m1 0h0m2 0h0m1 0h0m1 0h0m1 0h0m-20 1h0m8 0h0m3 0h0m1 0h0m1 0h0m1 0h0m1 0h0m3 0h0m2 0h0m1 0h0m-24 1h0m1 0h0m2 0h0m1 0h0m2 0h0m1 0h0m1 0h0m3 0h0m1 0h0m2 0h0m1 0h0m1 0h0m1 0h0m1 0h0m1 0h0m1 0h0m1 0h0m1 0h0m2 0h0m1 0h0m1 0h0m1 0h0m1 0h0m1 0h0m1 0h0m1 0h0m1 0h0m1 0h0m1 0h0m1 0h0m1 0h0m2 0h0m1 0h0m6 0h0" transform="translate(0.75 0.75)" stroke="#3b4aae" stroke-width="1.3" stroke-linecap="square" opacity="1.0" fill="none"/><rect x="153.3" y="265.3" width="37.7" height="35" fill="none" stroke="#666" stroke-width="1.3"/><rect x="39.5" y="228" width="206.8" height="144.8" fill="none" stroke="#808080" stroke-width="1.1"/><g transform="translate(69.6 384.0) scale(0.8 1)"><text x="0" y="0" font-family="Liberation Sans" font-size="6" text-anchor="middle" fill="#222">10<tspan dy="-4.3" font-size="4.5">2</tspan></text></g><g transform="translate(121.3 384.0) scale(0.8 1)"><text x="0" y="0" font-family="Liberation Sans" font-size="6" text-anchor="middle" fill="#222">10<tspan dy="-4.3" font-size="4.5">3</tspan></text></g><g transform="translate(173.0 384.0) scale(0.8 1)"><text x="0" y="0" font-family="Liberation Sans" font-size="6" text-anchor="middle" fill="#222">10<tspan dy="-4.3" font-size="4.5">4</tspan></text></g><g transform="translate(224.7 384.0) scale(0.8 1)"><text x="0" y="0" font-family="Liberation Sans" font-size="6" text-anchor="middle" fill="#222">10<tspan dy="-4.3" font-size="4.5">5</tspan></text></g><path d="M42.3 372.8v3.0M48.7 372.8v3.0M53.7 372.8v3.0M57.8 372.8v3.0M61.3 372.8v3.0M64.3 372.8v3.0M66.9 372.8v3.0M69.3 372.8v5.0M84.9 372.8v3.0M94.0 372.8v3.0M100.4 372.8v3.0M105.4 372.8v3.0M109.5 372.8v3.0M113.0 372.8v3.0M116.0 372.8v3.0M118.6 372.8v3.0M121.0 372.8v5.0M136.6 372.8v3.0M145.7 372.8v3.0M152.1 372.8v3.0M157.1 372.8v3.0M161.2 372.8v3.0M164.7 372.8v3.0M167.7 372.8v3.0M170.3 372.8v3.0M172.7 372.8v5.0M188.3 372.8v3.0M197.4 372.8v3.0M203.8 372.8v3.0M208.8 372.8v3.0M212.9 372.8v3.0M216.4 372.8v3.0M219.4 372.8v3.0M222.0 372.8v3.0M224.4 372.8v5.0M240.0 372.8v3.0" stroke="#444" stroke-width="0.9"/><g transform="translate(34.0 352.1) rotate(-90) scale(0.85 1)"><text x="0" y="0" font-family="Liberation Sans" font-size="6.5" text-anchor="middle" fill="#222">10<tspan dy="-4.7" font-size="4.9">2</tspan></text></g><g transform="translate(34.0 315.9) rotate(-90) scale(0.85 1)"><text x="0" y="0" font-family="Liberation Sans" font-size="6.5" text-anchor="middle" fill="#222">10<tspan dy="-4.7" font-size="4.9">3</tspan></text></g><g transform="translate(34.0 279.6) rotate(-90) scale(0.85 1)"><text x="0" y="0" font-family="Liberation Sans" font-size="6.5" text-anchor="middle" fill="#222">10<tspan dy="-4.7" font-size="4.9">4</tspan></text></g><g transform="translate(34.0 243.4) rotate(-90) scale(0.85 1)"><text x="0" y="0" font-family="Liberation Sans" font-size="6.5" text-anchor="middle" fill="#222">10<tspan dy="-4.7" font-size="4.9">5</tspan></text></g><path d="M39.3 370.7h-3.0M39.3 366.2h-3.0M39.3 362.7h-3.0M39.3 359.8h-3.0M39.3 357.4h-3.0M39.3 355.3h-3.0M39.3 353.4h-3.0M39.3 351.8h-5.0M39.3 340.9h-3.0M39.3 334.5h-3.0M39.3 330.0h-3.0M39.3 326.4h-3.0M39.3 323.6h-3.0M39.3 321.1h-3.0M39.3 319.0h-3.0M39.3 317.2h-3.0M39.3 315.5h-5.0M39.3 304.6h-3.0M39.3 298.2h-3.0M39.3 293.7h-3.0M39.3 290.2h-3.0M39.3 287.3h-3.0M39.3 284.9h-3.0M39.3 282.8h-3.0M39.3 281.0h-3.0M39.3 279.3h-5.0M39.3 268.4h-3.0M39.3 262.0h-3.0M39.3 257.5h-3.0M39.3 254.0h-3.0M39.3 251.1h-3.0M39.3 248.7h-3.0M39.3 246.6h-3.0M39.3 244.7h-3.0M39.3 243.0h-5.0M39.3 232.1h-3.0" stroke="#444" stroke-width="0.9"/><path d="M80 227.2H150" stroke="#999" stroke-width="0.8" stroke-dasharray="1.5 2.5"/><text x="92" y="278" font-family="Liberation Serif" font-size="16" font-weight="normal" text-anchor="start">T cells</text><text x="100.6" y="404.8" font-family="Liberation Serif" font-size="16" font-weight="normal" text-anchor="start">CD45 FITC</text><text transform="translate(15.6 298) rotate(-90) scale(1.06 1)" font-family="Liberation Serif" font-size="17.5" text-anchor="middle">CD3 V450</text><text x="5.5" y="235.8" font-family="Liberation Sans" font-size="15" font-weight="bold" text-anchor="start">B</text><path d="M457 258h0m-1 1h0m-3 3h0m-19 1h0m-1 1h0m5 0h0m9 0h0m5 0h0m-23 1h0m5 0h0m4 0h0m2 0h0m1 0h0m2 0h0m7 0h0m-18 1h0m4 0h0m2 0h0m1 0h0m2 0h0m1 0h0m2 0h0m1 0h0m5 0h0m2 0h0m-22 1h0m1 0h0m3 0h0m2 0h0m1 0h0m2 0h0m3 0h0m1 0h0m2 0h0m1 0h0m5 0h0m-20 1h0m5 0h0m1 0h0m2 0h0m2 0h0m2 0h0m1 0h0m4 0h0m1 0h0m2 0h0m-19 1h0m1 0h0m1 0h0m1 0h0m3 0h0m1 0h0m1 0h0m3 0h0m1 0h0m1 0h0m1 0h0m1 0h0m-18 1h0m4 0h0m1 0h0m1 0h0m2 0h0m1 0h0m2 0h0m1 0h0m1 0h0m1 0h0m1 0h0m1 0h0m1 0h0m1 0h0m1 0h0m1 0h0m3 0h0m3 0h0m-28 1h0m4 0h0m2 0h0m1 0h0m2 0h0m1 0h0m1 0h0m2 0h0m1 0h0m3 0h0m1 0h0m1 0h0m1 0h0m1 0h0m3 0h0m1 0h0m1 0h0m-24 1h0m2 0h0m3 0h0m2 0h0m3 0h0m2 0h0m1 0h0m1 0h0m1 0h0m1 0h0m1 0h0m1 0h0m1 0h0m2 0h0m4 0h0m1 0h0m-28 1h0m1 0h0m1 0h0m2 0h0m3 0h0m2 0h0m1 0h0m1 0h0m1 0h0m1 0h0m1 0h0m1 0h0m1 0h0m2 0h0m1 0h0m1 0h0m1 0h0m1 0h0m1 0h0m1 0h0m1 0h0m-24 1h0m1 0h0m1 0h0m2 0h0m1 0h0m1 0h0m1 0h0m1 0h0m1 0h0m2 0h0m1 0h0m1 0h0m1 0h0m1 0h0m1 0h0m1 0h0m2 0h0m1 0h0m1 0h0m1 0h0m4 0h0m-25 1h0m2 0h0m1 0h0m1 0h0m1 0h0m1 0h0m2 0h0m1 0h0m1 0h0m1 0h0m1 0h0m1 0h0m1 0h0m1 0h0m1 0h0m1 0h0m1 0h0m1 0h0m1 0h0m1 0h0m2 0h0m1 0h0m1 0h0m2 0h0m-23 1h0m1 0h0m1 0h0m1 0h0m1 0h0m1 0h0m1 0h0m1 0h0m1 0h0m2 0h0m1 0h0m1 0h0m1 0h0m1 0h0m1 0h0m1 0h0m1 0h0m3 0h0m1 0h0m-28 1h0m1 0h0m3 0h0m1 0h0m1 0h0m1 0h0m1 0h0m1 0h0m1 0h0m1 0h0m1 0h0m1 0h0m1 0h0m1 0h0m1 0h0m1 0h0m1 0h0m1 0h0m1 0h0m1 0h0m1 0h0m1 0h0m3 0h0m3 0h0m-29 1h0m2 0h0m3 0h0m1 0h0m1 0h0m1 0h0m1 0h0m2 0h0m2 0h0m1 0h0m1 0h0m1 0h0m1 0h0m1 0h0m1 0h0m1 0h0m1 0h0m2 0h0m1 0h0m5 0h0m1 0h0m-29 1h0m5 0h0m1 0h0m1 0h0m2 0h0m1 0h0m1 0h0m1 0h0m1 0h0m1 0h0m1 0h0m1 0h0m1 0h0m1 0h0m1 0h0m1 0h0m3 0h0m1 0h0m2 0h0m-26 1h0m3 0h0m2 0h0m2 0h0m3 0h0m1 0h0m1 0h0m2 0h0m1 0h0m1 0h0m1 0h0m1 0h0m1 0h0m1 0h0m1 0h0m2 0h0m2 0h0m-25 1h0m1 0h0m1 0h0m3 0h0m1 0h0m2 0h0m1 0h0m1 0h0m2 0h0m1 0h0m1 0h0m1 0h0m1 0h0m2 0h0m1 0h0m1 0h0m1 0h0m1 0h0m3 0h0m1 0h0m-24 1h0m2 0h0m4 0h0m1 0h0m1 0h0m1 0h0m3 0h0m2 0h0m2 0h0m2 0h0m1 0h0m1 0h0m1 0h0m3 0h0m-26 1h0m4 0h0m6 0h0m1 0h0m2 0h0m1 0h0m1 0h0m1 0h0m3 0h0m2 0h0m5 0h0m-18 1h0m2 0h0m1 0h0m1 0h0m1 0h0m1 0h0m5 0h0m5 0h0m-17 1h0m2 0h0m2 0h0m1 0h0m5 0h0m1 0h0m2 0h0m1 0h0m5 0h0m-15 1h0m2 0h0m5 0h0m8 0h0m2 0h0m-26 1h0m9 0h0m7 0h0m3 0h0m6 0h0m2 0h0m-27 1h0m2 0h0m2 0h0m3 0h0m4 0h0m5 0h0m4 0h0m1 0h0m-8 1h0m10 0h0m-14 1h0m5 0h0m-3 1h0m2 0h0m1 0h0m4 0h0m3 0h0m-1 1h0m2 1h0m-13 2h0m9 0h0m-9 1h0m1 0h0m7 0h0m-9 2h0m12 0h0m-9 1h0m2 1h0m2 0h0m2 0h0m1 1h0m3 0h0m4 0h0m-9 1h0m0 1h0m-7 2h0m3 0h0m5 0h0m-11 1h0m1 0h0m10 0h0m-12 2h0m14 0h0m-10 1h0m4 0h0m2 0h0m-2 1h0m7 0h0m2 0h0m-5 1h0m-16 1h0m6 0h0m16 1h0m11 0h0m-20 1h0m7 0h0m-9 1h0m6 0h0m4 0h0m-8 1h0m2 0h0m8 0h0m-22 1h0m11 0h0m2 0h0m2 0h0m-11 1h0m4 0h0m-12 1h0m11 0h0m2 0h0m0 1h0m5 0h0m11 0h0m-21 1h0m5 0h0m2 0h0m1 0h0m4 0h0m1 0h0m-6 1h0m3 0h0m1 0h0m2 0h0m1 0h0m2 0h0m6 0h0m1 0h0m4 0h0m-28 1h0m1 0h0m1 0h0m3 0h0m1 0h0m4 0h0m1 0h0m1 0h0m1 0h0m1 0h0m1 0h0m3 0h0m1 0h0m-15 1h0m1 0h0m2 0h0m1 0h0m1 0h0m1 0h0m1 0h0m1 0h0m1 0h0m1 0h0m1 0h0m1 0h0m3 0h0m-16 1h0m3 0h0m1 0h0m1 0h0m1 0h0m1 0h0m1 0h0m2 0h0m1 0h0m1 0h0m2 0h0m1 0h0m1 0h0m1 0h0m4 0h0m-23 1h0m2 0h0m3 0h0m1 0h0m1 0h0m1 0h0m1 0h0m2 0h0m1 0h0m1 0h0m1 0h0m1 0h0m2 0h0m1 0h0m2 0h0m1 0h0m-24 1h0m4 0h0m3 0h0m1 0h0m1 0h0m1 0h0m1 0h0m1 0h0m1 0h0m1 0h0m1 0h0m1 0h0m1 0h0m1 0h0m1 0h0m2 0h0m2 0h0m-19 1h0m3 0h0m1 0h0m1 0h0m1 0h0m1 0h0m3 0h0m1 0h0m1 0h0m1 0h0m1 0h0m1 0h0m1 0h0m1 0h0m1 0h0m2 0h0m1 0h0m3 0h0m-26 1h0m2 0h0m1 0h0m1 0h0m1 0h0m1 0h0m1 0h0m1 0h0m1 0h0m1 0h0m1 0h0m1 0h0m1 0h0m1 0h0m1 0h0m1 0h0m1 0h0m1 0h0m2 0h0m1 0h0m2 0h0m-20 1h0m2 0h0m1 0h0m1 0h0m1 0h0m1 0h0m1 0h0m1 0h0m1 0h0m1 0h0m1 0h0m1 0h0m1 0h0m1 0h0m1 0h0m1 0h0m1 0h0m-19 1h0m1 0h0m1 0h0m1 0h0m1 0h0m1 0h0m1 0h0m1 0h0m1 0h0m1 0h0m1 0h0m1 0h0m3 0h0m1 0h0m1 0h0m1 0h0m1 0h0m1 0h0m1 0h0m1 0h0m1 0h0m1 0h0m6 0h0m-30 1h0m1 0h0m1 0h0m1 0h0m1 0h0m2 0h0m1 0h0m2 0h0m1 0h0m1 0h0m1 0h0m1 0h0m1 0h0m1 0h0m1 0h0m1 0h0m1 0h0m2 0h0m1 0h0m1 0h0m1 0h0m1 0h0m1 0h0m-26 1h0m1 0h0m1 0h0m1 0h0m1 0h0m1 0h0m1 0h0m1 0h0m1 0h0m1 0h0m1 0h0m1 0h0m1 0h0m1 0h0m1 0h0m1 0h0m1 0h0m1 0h0m1 0h0m1 0h0m1 0h0m1 0h0m1 0h0m1 0h0m1 0h0m1 0h0m2 0h0m-26 1h0m1 0h0m1 0h0m1 0h0m1 0h0m1 0h0m1 0h0m1 0h0m1 0h0m1 0h0m1 0h0m1 0h0m1 0h0m1 0h0m1 0h0m1 0h0m1 0h0m1 0h0m1 0h0m1 0h0m1 0h0m1 0h0m1 0h0m1 0h0m2 0h0m1 0h0m1 0h0m-29 1h0m2 0h0m1 0h0m1 0h0m2 0h0m1 0h0m1 0h0m1 0h0m1 0h0m1 0h0m1 0h0m1 0h0m1 0h0m1 0h0m1 0h0m1 0h0m1 0h0m1 0h0m1 0h0m1 0h0m1 0h0m1 0h0m1 0h0m1 0h0m1 0h0m2 0h0m2 0h0m3 0h0m1 0h0m-33 1h0m2 0h0m1 0h0m1 0h0m1 0h0m1 0h0m1 0h0m1 0h0m1 0h0m1 0h0m1 0h0m1 0h0m1 0h0m1 0h0m1 0h0m1 0h0m1 0h0m1 0h0m1 0h0m2 0h0m1 0h0m1 0h0m1 0h0m1 0h0m2 0h0m2 0h0m-31 1h0m2 0h0m1 0h0m1 0h0m1 0h0m1 0h0m1 0h0m1 0h0m1 0h0m1 0h0m1 0h0m1 0h0m1 0h0m1 0h0m1 0h0m1 0h0m1 0h0m1 0h0m2 0h0m1 0h0m1 0h0m1 0h0m1 0h0m1 0h0m1 0h0m1 0h0m1 0h0m4 0h0m5 0h0m-36 1h0m1 0h0m1 0h0m1 0h0m1 0h0m1 0h0m1 0h0m1 0h0m1 0h0m1 0h0m1 0h0m1 0h0m1 0h0m1 0h0m1 0h0m1 0h0m1 0h0m1 0h0m1 0h0m1 0h0m1 0h0m1 0h0m1 0h0m1 0h0m1 0h0m1 0h0m1 0h0m-27 1h0m4 0h0m1 0h0m1 0h0m1 0h0m1 0h0m1 0h0m1 0h0m1 0h0m1 0h0m1 0h0m1 0h0m1 0h0m1 0h0m1 0h0m1 0h0m1 0h0m1 0h0m1 0h0m1 0h0m1 0h0m1 0h0m1 0h0m1 0h0m1 0h0m1 0h0m1 0h0m1 0h0m-29 1h0m1 0h0m1 0h0m1 0h0m1 0h0m1 0h0m1 0h0m1 0h0m1 0h0m1 0h0m1 0h0m1 0h0m1 0h0m1 0h0m1 0h0m2 0h0m1 0h0m1 0h0m1 0h0m1 0h0m1 0h0m1 0h0m2 0h0m1 0h0m1 0h0m2 0h0m1 0h0m-31 1h0m3 0h0m1 0h0m1 0h0m1 0h0m1 0h0m1 0h0m1 0h0m1 0h0m1 0h0m1 0h0m1 0h0m1 0h0m1 0h0m1 0h0m1 0h0m1 0h0m1 0h0m1 0h0m1 0h0m1 0h0m1 0h0m1 0h0m1 0h0m1 0h0m1 0h0m1 0h0m1 0h0m1 0h0m1 0h0m-30 1h0m1 0h0m2 0h0m1 0h0m1 0h0m1 0h0m1 0h0m1 0h0m1 0h0m1 0h0m1 0h0m1 0h0m1 0h0m1 0h0m1 0h0m1 0h0m1 0h0m1 0h0m2 0h0m1 0h0m1 0h0m1 0h0m1 0h0m1 0h0m1 0h0m1 0h0m1 0h0m1 0h0m1 0h0m-29 1h0m1 0h0m1 0h0m1 0h0m1 0h0m1 0h0m1 0h0m1 0h0m1 0h0m1 0h0m1 0h0m1 0h0m2 0h0m1 0h0m1 0h0m1 0h0m1 0h0m1 0h0m1 0h0m1 0h0m1 0h0m1 0h0m1 0h0m1 0h0m2 0h0m1 0h0m2 0h0m-27 1h0m1 0h0m1 0h0m1 0h0m1 0h0m1 0h0m1 0h0m1 0h0m1 0h0m1 0h0m1 0h0m1 0h0m1 0h0m1 0h0m1 0h0m1 0h0m1 0h0m1 0h0m1 0h0m1 0h0m1 0h0m1 0h0m1 0h0m1 0h0m1 0h0m1 0h0m2 0h0m-30 1h0m1 0h0m1 0h0m2 0h0m1 0h0m1 0h0m1 0h0m1 0h0m1 0h0m1 0h0m1 0h0m1 0h0m1 0h0m1 0h0m1 0h0m1 0h0m1 0h0m1 0h0m1 0h0m1 0h0m1 0h0m1 0h0m1 0h0m1 0h0m1 0h0m1 0h0m1 0h0m1 0h0m1 0h0m1 0h0m-30 1h0m1 0h0m1 0h0m2 0h0m1 0h0m2 0h0m1 0h0m1 0h0m1 0h0m1 0h0m1 0h0m1 0h0m2 0h0m1 0h0m1 0h0m1 0h0m1 0h0m1 0h0m1 0h0m1 0h0m1 0h0m1 0h0m1 0h0m1 0h0m1 0h0m1 0h0m1 0h0m1 0h0m1 0h0m1 0h0m-32 1h0m2 0h0m1 0h0m1 0h0m1 0h0m1 0h0m1 0h0m1 0h0m1 0h0m1 0h0m1 0h0m1 0h0m2 0h0m1 0h0m1 0h0m1 0h0m1 0h0m1 0h0m1 0h0m1 0h0m1 0h0m1 0h0m1 0h0m1 0h0m1 0h0m1 0h0m1 0h0m1 0h0m1 0h0m1 0h0m3 0h0m-35 1h0m1 0h0m2 0h0m1 0h0m1 0h0m1 0h0m1 0h0m1 0h0m1 0h0m1 0h0m1 0h0m1 0h0m1 0h0m1 0h0m1 0h0m1 0h0m1 0h0m1 0h0m1 0h0m1 0h0m1 0h0m1 0h0m1 0h0m1 0h0m1 0h0m1 0h0m1 0h0m1 0h0m1 0h0m1 0h0m2 0h0m-31 1h0m1 0h0m1 0h0m1 0h0m1 0h0m1 0h0m1 0h0m1 0h0m1 0h0m1 0h0m1 0h0m1 0h0m1 0h0m1 0h0m1 0h0m1 0h0m1 0h0m1 0h0m1 0h0m1 0h0m1 0h0m1 0h0m1 0h0m1 0h0m1 0h0m1 0h0m1 0h0m1 0h0m1 0h0m1 0h0m7 0h0m-35 1h0m2 0h0m1 0h0m1 0h0m1 0h0m1 0h0m1 0h0m1 0h0m1 0h0m1 0h0m1 0h0m1 0h0m1 0h0m1 0h0m1 0h0m1 0h0m1 0h0m1 0h0m1 0h0m1 0h0m2 0h0m1 0h0m1 0h0m1 0h0m1 0h0m1 0h0m2 0h0m-29 1h0m1 0h0m1 0h0m1 0h0m1 0h0m1 0h0m1 0h0m1 0h0m1 0h0m1 0h0m1 0h0m1 0h0m1 0h0m1 0h0m1 0h0m1 0h0m1 0h0m1 0h0m1 0h0m1 0h0m1 0h0m1 0h0m1 0h0m1 0h0m1 0h0m1 0h0m1 0h0m1 0h0m1 0h0m1 0h0m1 0h0m1 0h0m-32 1h0m1 0h0m1 0h0m1 0h0m1 0h0m1 0h0m2 0h0m1 0h0m1 0h0m1 0h0m1 0h0m1 0h0m1 0h0m1 0h0m1 0h0m1 0h0m1 0h0m1 0h0m1 0h0m1 0h0m1 0h0m1 0h0m1 0h0m2 0h0m1 0h0m1 0h0m1 0h0m1 0h0m1 0h0m1 0h0m-30 1h0m1 0h0m1 0h0m1 0h0m1 0h0m1 0h0m2 0h0m1 0h0m1 0h0m1 0h0m1 0h0m1 0h0m1 0h0m1 0h0m1 0h0m1 0h0m1 0h0m1 0h0m1 0h0m1 0h0m1 0h0m1 0h0m1 0h0m1 0h0m1 0h0m1 0h0m1 0h0m1 0h0m1 0h0m-27 1h0m1 0h0m1 0h0m1 0h0m1 0h0m1 0h0m1 0h0m1 0h0m1 0h0m1 0h0m1 0h0m1 0h0m1 0h0m1 0h0m1 0h0m1 0h0m1 0h0m1 0h0m1 0h0m1 0h0m1 0h0m1 0h0m1 0h0m1 0h0m1 0h0m1 0h0m1 0h0m1 0h0m2 0h0m-30 1h0m1 0h0m1 0h0m1 0h0m1 0h0m1 0h0m1 0h0m1 0h0m1 0h0m2 0h0m1 0h0m1 0h0m1 0h0m1 0h0m1 0h0m1 0h0m1 0h0m1 0h0m1 0h0m1 0h0m1 0h0m1 0h0m1 0h0m1 0h0m1 0h0m1 0h0m1 0h0m1 0h0m-31 1h0m2 0h0m1 0h0m2 0h0m1 0h0m1 0h0m2 0h0m1 0h0m1 0h0m1 0h0m1 0h0m1 0h0m1 0h0m1 0h0m1 0h0m1 0h0m1 0h0m1 0h0m1 0h0m1 0h0m1 0h0m1 0h0m1 0h0m1 0h0m1 0h0m1 0h0m1 0h0m1 0h0m3 0h0m-31 1h0m1 0h0m2 0h0m1 0h0m1 0h0m1 0h0m1 0h0m1 0h0m1 0h0m1 0h0m1 0h0m1 0h0m1 0h0m1 0h0m1 0h0m1 0h0m1 0h0m1 0h0m1 0h0m1 0h0m1 0h0m1 0h0m1 0h0m1 0h0m1 0h0m1 0h0m1 0h0m1 0h0m1 0h0m1 0h0m1 0h0m-31 1h0m2 0h0m1 0h0m1 0h0m1 0h0m1 0h0m1 0h0m1 0h0m2 0h0m1 0h0m1 0h0m1 0h0m1 0h0m1 0h0m1 0h0m1 0h0m1 0h0m1 0h0m1 0h0m1 0h0m1 0h0m1 0h0m1 0h0m1 0h0m1 0h0m1 0h0m1 0h0m-27 1h0m1 0h0m1 0h0m1 0h0m1 0h0m1 0h0m1 0h0m1 0h0m1 0h0m1 0h0m1 0h0m1 0h0m1 0h0m1 0h0m1 0h0m1 0h0m1 0h0m1 0h0m1 0h0m1 0h0m1 0h0m1 0h0m1 0h0m1 0h0m1 0h0m1 0h0m1 0h0m1 0h0m1 0h0m-26 1h0m1 0h0m1 0h0m1 0h0m1 0h0m1 0h0m1 0h0m1 0h0m1 0h0m1 0h0m1 0h0m1 0h0m1 0h0m1 0h0m1 0h0m1 0h0m1 0h0m1 0h0m1 0h0m1 0h0m1 0h0m1 0h0m1 0h0m1 0h0m1 0h0m-33 1h0m7 0h0m1 0h0m1 0h0m1 0h0m2 0h0m1 0h0m1 0h0m1 0h0m1 0h0m1 0h0m1 0h0m1 0h0m1 0h0m1 0h0m1 0h0m1 0h0m1 0h0m1 0h0m1 0h0m1 0h0m1 0h0m1 0h0m1 0h0m1 0h0m1 0h0m1 0h0m1 0h0m2 0h0m5 0h0m-33 1h0m1 0h0m1 0h0m1 0h0m1 0h0m1 0h0m1 0h0m1 0h0m1 0h0m1 0h0m1 0h0m1 0h0m1 0h0m1 0h0m2 0h0m1 0h0m1 0h0m1 0h0m1 0h0m1 0h0m1 0h0m1 0h0m1 0h0m1 0h0m1 0h0m1 0h0m1 0h0m-27 1h0m2 0h0m1 0h0m1 0h0m2 0h0m1 0h0m1 0h0m1 0h0m1 0h0m1 0h0m1 0h0m1 0h0m1 0h0m1 0h0m1 0h0m1 0h0m1 0h0m1 0h0m1 0h0m1 0h0m1 0h0m1 0h0m3 0h0m-27 1h0m1 0h0m1 0h0m1 0h0m1 0h0m1 0h0m1 0h0m1 0h0m1 0h0m1 0h0m1 0h0m1 0h0m1 0h0m1 0h0m1 0h0m1 0h0m1 0h0m1 0h0m1 0h0m1 0h0m1 0h0m1 0h0m1 0h0m1 0h0m1 0h0m1 0h0m1 0h0m1 0h0m-24 1h0m1 0h0m1 0h0m1 0h0m1 0h0m1 0h0m2 0h0m1 0h0m1 0h0m1 0h0m1 0h0m1 0h0m1 0h0m1 0h0m1 0h0m1 0h0m1 0h0m1 0h0m1 0h0m1 0h0m1 0h0m-22 1h0m2 0h0m1 0h0m1 0h0m1 0h0m1 0h0m1 0h0m1 0h0m1 0h0m1 0h0m1 0h0m1 0h0m1 0h0m1 0h0m1 0h0m1 0h0m1 0h0m1 0h0m1 0h0m1 0h0m1 0h0m1 0h0m-23 1h0m1 0h0m1 0h0m1 0h0m1 0h0m1 0h0m1 0h0m1 0h0m1 0h0m1 0h0m1 0h0m1 0h0m2 0h0m1 0h0m2 0h0m1 0h0m1 0h0m2 0h0m1 0h0m1 0h0m1 0h0m9 0h0m-29 1h0m1 0h0m2 0h0m1 0h0m1 0h0m1 0h0m1 0h0m1 0h0m1 0h0m1 0h0m1 0h0m1 0h0m1 0h0m2 0h0m1 0h0m1 0h0m2 0h0m-20 1h0m1 0h0m2 0h0m1 0h0m1 0h0m1 0h0m1 0h0m2 0h0m1 0h0m1 0h0m1 0h0m1 0h0m1 0h0m1 0h0m1 0h0m1 0h0m1 0h0m1 0h0m1 0h0m1 0h0m2 0h0m-22 1h0m2 0h0m2 0h0m1 0h0m1 0h0m1 0h0m1 0h0m1 0h0m1 0h0m1 0h0m1 0h0m1 0h0m1 0h0m1 0h0m1 0h0m1 0h0m1 0h0m1 0h0m-24 1h0m3 0h0m1 0h0m1 0h0m1 0h0m1 0h0m1 0h0m1 0h0m1 0h0m1 0h0m1 0h0m1 0h0m1 0h0m1 0h0m1 0h0m1 0h0m1 0h0m1 0h0m1 0h0m1 0h0m1 0h0m2 0h0m1 0h0m3 0h0m1 0h0m1 0h0m1 0h0m1 0h0m2 0h0" transform="translate(0.75 0.75)" stroke="#3b4aae" stroke-width="1.3" stroke-linecap="square" opacity="1.0" fill="none"/><rect x="427" y="265.3" width="29" height="22.4" fill="none" stroke="#666" stroke-width="1.3"/><rect x="291.6" y="226" width="214.6" height="146.3" fill="none" stroke="#808080" stroke-width="1.1"/><g transform="translate(323.0 383.0) scale(0.8 1)"><text x="0" y="0" font-family="Liberation Sans" font-size="6" text-anchor="middle" fill="#222">10<tspan dy="-4.3" font-size="4.5">2</tspan></text></g><g transform="translate(376.7 383.0) scale(0.8 1)"><text x="0" y="0" font-family="Liberation Sans" font-size="6" text-anchor="middle" fill="#222">10<tspan dy="-4.3" font-size="4.5">3</tspan></text></g><g transform="translate(430.4 383.0) scale(0.8 1)"><text x="0" y="0" font-family="Liberation Sans" font-size="6" text-anchor="middle" fill="#222">10<tspan dy="-4.3" font-size="4.5">4</tspan></text></g><g transform="translate(484.1 383.0) scale(0.8 1)"><text x="0" y="0" font-family="Liberation Sans" font-size="6" text-anchor="middle" fill="#222">10<tspan dy="-4.3" font-size="4.5">5</tspan></text></g><path d="M294.7 372.2v3.0M301.4 372.2v3.0M306.6 372.2v3.0M310.8 372.2v3.0M314.4 372.2v3.0M317.5 372.2v3.0M320.3 372.2v3.0M322.7 372.2v5.0M338.9 372.2v3.0M348.3 372.2v3.0M355.0 372.2v3.0M360.3 372.2v3.0M364.5 372.2v3.0M368.1 372.2v3.0M371.2 372.2v3.0M374.0 372.2v3.0M376.4 372.2v5.0M392.6 372.2v3.0M402.0 372.2v3.0M408.7 372.2v3.0M413.9 372.2v3.0M418.2 372.2v3.0M421.8 372.2v3.0M424.9 372.2v3.0M427.6 372.2v3.0M430.1 372.2v5.0M446.2 372.2v3.0M455.7 372.2v3.0M462.4 372.2v3.0M467.6 372.2v3.0M471.9 372.2v3.0M475.4 372.2v3.0M478.6 372.2v3.0M481.3 372.2v3.0M483.8 372.2v5.0M499.9 372.2v3.0" stroke="#444" stroke-width="0.9"/><g transform="translate(286.5 351.3) rotate(-90) scale(0.85 1)"><text x="0" y="0" font-family="Liberation Sans" font-size="6.5" text-anchor="middle" fill="#222">10<tspan dy="-4.7" font-size="4.9">2</tspan></text></g><g transform="translate(286.5 314.7) rotate(-90) scale(0.85 1)"><text x="0" y="0" font-family="Liberation Sans" font-size="6.5" text-anchor="middle" fill="#222">10<tspan dy="-4.7" font-size="4.9">3</tspan></text></g><g transform="translate(286.5 278.0) rotate(-90) scale(0.85 1)"><text x="0" y="0" font-family="Liberation Sans" font-size="6.5" text-anchor="middle" fill="#222">10<tspan dy="-4.7" font-size="4.9">4</tspan></text></g><g transform="translate(286.5 241.4) rotate(-90) scale(0.85 1)"><text x="0" y="0" font-family="Liberation Sans" font-size="6.5" text-anchor="middle" fill="#222">10<tspan dy="-4.7" font-size="4.9">5</tspan></text></g><path d="M291.6 370.1h-3.0M291.6 365.5h-3.0M291.6 362.0h-3.0M291.6 359.1h-3.0M291.6 356.6h-3.0M291.6 354.5h-3.0M291.6 352.6h-3.0M291.6 351.0h-5.0M291.6 339.9h-3.0M291.6 333.5h-3.0M291.6 328.9h-3.0M291.6 325.4h-3.0M291.6 322.5h-3.0M291.6 320.0h-3.0M291.6 317.9h-3.0M291.6 316.0h-3.0M291.6 314.3h-5.0M291.6 303.3h-3.0M291.6 296.9h-3.0M291.6 292.3h-3.0M291.6 288.7h-3.0M291.6 285.8h-3.0M291.6 283.4h-3.0M291.6 281.3h-3.0M291.6 279.4h-3.0M291.6 277.7h-5.0M291.6 266.7h-3.0M291.6 260.3h-3.0M291.6 255.7h-3.0M291.6 252.1h-3.0M291.6 249.2h-3.0M291.6 246.8h-3.0M291.6 244.7h-3.0M291.6 242.8h-3.0M291.6 241.1h-5.0M291.6 230.1h-3.0" stroke="#444" stroke-width="0.9"/><text x="374.6" y="270" font-family="Liberation Serif" font-size="16" font-weight="normal" text-anchor="start">B cells</text><text x="361" y="401.6" font-family="Liberation Serif" font-size="16" font-weight="normal" text-anchor="start">CD45 FITC</text><text transform="translate(269 298.2) rotate(-90)" font-family="Liberation Serif" font-size="16" text-anchor="middle">CD19 PE Cy7</text><text x="259.5" y="231.9" font-family="Liberation Sans" font-size="15" font-weight="bold" text-anchor="start">D</text><path d="M322.8 135.8L116 249.8" stroke="#000" stroke-width="3.8" fill="none"/><path d="M123 238.8L114 250.2L129.5 250.4" stroke="#000" stroke-width="3.6" fill="none" stroke-linejoin="round"/><path d="M366.5 153.2L446.5 256.5" stroke="#000" stroke-width="3.8" fill="none"/><path d="M435 252L447.8 258L446.2 244.5" stroke="#000" stroke-width="3.6" fill="none" stroke-linejoin="round"/><path d="M45.0 581.9L45.0 578.4L45.5 578.2L46.0 577.7L46.5 576.0L47.0 574.3L47.5 575.7L48.0 577.1L48.5 576.7L49.0 575.9L49.5 573.8L50.0 571.0L50.5 570.1L51.0 571.5L51.5 572.5L52.0 572.9L52.5 573.2L53.0 573.5L53.5 573.1L54.0 572.0L54.5 571.5L55.0 571.3L55.5 571.1L56.0 569.5L56.5 569.0L57.0 568.2L57.5 566.1L58.0 564.1L58.5 565.2L59.0 566.3L59.5 565.5L60.0 563.7L60.5 561.0L61.0 559.4L61.5 560.1L62.0 561.0L62.5 560.5L63.0 560.0L63.5 557.9L64.0 554.0L64.5 552.2L65.0 555.3L65.5 558.1L66.0 557.9L66.5 557.6L67.0 556.5L67.5 553.9L68.0 551.9L68.5 553.3L69.0 554.4L69.5 553.4L70.0 552.5L70.5 551.8L71.0 548.3L71.5 543.7L72.0 543.4L72.5 546.6L73.0 549.5L73.5 550.5L74.0 551.5L74.5 548.8L75.0 545.3L75.5 546.3L76.0 549.4L76.5 551.1L77.0 551.2L77.5 551.3L78.0 550.7L78.5 548.4L79.0 546.4L79.5 549.0L80.0 551.5L80.5 552.6L81.0 554.2L81.5 553.8L82.0 553.5L82.5 557.6L83.0 560.8L83.5 562.0L84.0 562.7L84.5 561.0L85.0 558.9L85.5 560.7L86.0 563.9L86.5 565.8L87.0 566.2L87.5 565.3L88.0 564.3L88.5 565.2L89.0 567.4L89.5 569.2L90.0 570.3L90.5 571.3L91.0 571.1L91.5 569.9L92.0 568.0L92.5 571.2L93.0 573.7L93.5 574.4L94.0 575.0L94.5 575.7L95.0 576.3L95.5 576.9L96.0 577.6L96.5 578.0L97.0 578.2L97.5 578.4L98.0 578.5L98.5 578.7L99.0 578.9L99.5 579.0L100.0 579.2L100.5 579.4L101.0 579.6L101.5 579.7L102.0 579.9L102.5 580.1L103.0 580.2L103.5 580.4L104.0 580.5L104.5 580.6L105.0 580.6L105.5 580.6L106.0 580.6L106.5 580.7L107.0 580.7L107.5 580.7L108.0 580.7L108.5 580.8L109.0 580.8L109.5 580.8L110.0 580.8L110.5 580.8L111.0 580.9L111.5 580.9L112.0 580.9L112.5 580.9L113.0 581.0L113.5 581.0L114.0 581.0L114.5 581.0L115.0 581.1L115.5 581.1L116.0 581.1L116.5 581.1L117.0 581.1L117.5 581.1L118.0 581.1L118.5 581.2L119.0 581.2L119.5 581.2L120.0 581.2L120.5 581.2L121.0 581.2L121.5 581.2L122.0 581.2L122.5 581.2L123.0 581.2L123.5 581.2L124.0 581.2L124.5 581.3L125.0 581.3L125.5 581.3L126.0 581.3L126.5 581.3L127.0 581.3L127.5 581.3L128.0 581.3L128.5 581.3L129.0 581.3L129.5 581.3L130.0 581.3L130.5 581.4L131.0 581.4L131.5 581.4L132.0 581.4L132.5 581.4L133.0 581.4L133.5 581.4L134.0 581.4L134.5 581.4L135.0 581.4L135.5 581.4L136.0 581.4L136.5 581.5L137.0 581.5L137.5 581.5L138.0 581.5L138.5 581.5L139.0 581.5L139.5 581.5L140.0 581.5L140.5 581.5L141.0 581.5L141.5 581.5L142.0 581.5L142.5 581.5L143.0 581.5L143.5 581.5L144.0 581.5L144.5 581.5L145.0 581.5L145.5 581.5L146.0 581.4L146.5 581.4L147.0 581.4L147.5 581.4L148.0 581.4L148.5 581.4L149.0 581.4L149.5 581.4L150.0 581.4L150.5 581.4L151.0 581.4L151.5 581.4L152.0 581.4L152.5 581.4L153.0 581.4L153.5 581.4L154.0 581.4L154.5 581.4L155.0 581.4L155.5 581.4L156.0 581.4L156.5 581.3L157.0 581.3L157.5 581.3L158.0 581.3L158.5 581.3L159.0 581.3L159.5 581.3L160.0 581.3L160.5 581.3L161.0 581.2L161.5 581.2L162.0 581.1L162.5 581.1L163.0 581.0L163.5 581.0L164.0 580.9L164.5 580.9L165.0 580.8L165.5 580.8L166.0 580.7L166.5 580.2L167.0 579.7L167.5 579.2L168.0 578.7L168.5 578.1L169.0 577.6L169.5 577.1L170.0 576.6L170.5 576.1L171.0 575.6L171.5 575.1L172.0 573.9L172.5 572.4L173.0 571.3L173.5 570.0L174.0 568.5L174.5 567.4L175.0 566.0L175.5 564.5L176.0 563.1L176.5 561.7L177.0 560.1L177.5 559.1L178.0 558.2L178.5 555.8L179.0 551.6L179.5 548.2L180.0 543.6L180.5 541.3L181.0 537.7L181.5 533.1L182.0 529.7L182.5 525.3L183.0 519.8L183.5 516.9L184.0 513.8L184.5 509.5L185.0 507.4L185.5 498.8L186.0 494.0L186.5 488.3L187.0 482.1L187.5 475.9L188.0 470.7L188.5 466.7L189.0 458.1L189.5 456.0L190.0 452.1L190.5 444.3L191.0 440.3L191.5 436.0L192.0 435.3L192.5 435.3L193.0 435.9L193.5 435.3L194.0 440.7L194.5 441.8L195.0 446.7L195.5 451.1L196.0 457.1L196.5 458.8L197.0 467.9L197.5 474.4L198.0 483.7L198.5 493.8L199.0 498.4L199.5 505.4L200.0 520.1L200.5 534.4L201.0 548.1L201.5 559.4L202.0 562.3L202.5 565.6L203.0 569.5L203.5 573.1L204.0 575.6L204.5 576.9L205.0 578.1L205.5 579.4L206.0 580.7L206.5 580.8L207.0 581.0L207.5 581.1L208.0 581.2L208.5 581.3L209.0 581.5L209.5 581.6L210.0 581.7L210.5 581.7L211.0 581.7L211.5 581.7L212.0 581.7L212.5 581.7L213.0 581.7L213.5 581.7L214.0 581.7L214.5 581.7L215.0 581.7L215.5 581.7L216.0 581.7L216.5 581.7L217.0 581.7L217.5 581.7L218.0 581.7L218.5 581.7L219.0 581.7L219.5 581.7L220.0 581.8L220.5 581.8L221.0 581.8L221.5 581.8L222.0 581.8L222.5 581.8L223.0 581.8L223.5 581.8L224.0 581.8L224.5 581.8L225.0 581.8L225.5 581.8L226.0 581.8L226.5 581.8L227.0 581.8L227.5 581.8L228.0 581.8L228.5 581.8L229.0 581.8L229.5 581.8L230.0 581.8L230.5 581.8L231.0 581.8L231.5 581.8L232.0 581.8L232.5 581.8L233.0 581.8L233.5 581.8L234.0 581.8L234.5 581.8L235.0 581.8L235.5 581.8L236.0 581.8L236.5 581.8L237.0 581.8L237.5 581.8L238.0 581.8L238.5 581.8L239.0 581.8L239.5 581.8L240.0 581.8L240.5 581.8L241.0 581.8L241.5 581.9L242.0 581.9L242.5 581.9L243.0 581.9L243.5 581.9L244.0 581.9L244.5 581.9L245.0 581.9L245.5 581.9L246.0 581.9L246.5 581.9L247.0 581.9L247.5 581.9L248.0 581.9L248.5 581.9L249.0 581.9L249.5 581.9L250.0 581.9L250.5 581.9L251.0 581.9L251.5 581.9L251.5 581.9Z" fill="#6464b8" stroke="#4444aa" stroke-width="0.8"/><rect x="45" y="435.3" width="206.8" height="146.59999999999997" fill="none" stroke="#707070" stroke-width="1.1"/><line x1="175" y1="434.8" x2="179.5" y2="434.8" stroke="#222" stroke-width="1.4"/><line x1="45" y1="435.3" x2="45" y2="581.9" stroke="#4a4aa0" stroke-width="1.4"/><line x1="168.5" y1="435.3" x2="168.5" y2="581.9" stroke="#444" stroke-width="1.0"/><line x1="208.4" y1="435.3" x2="208.4" y2="581.9" stroke="#444" stroke-width="1.0"/><line x1="168.5" y1="558.3" x2="208.4" y2="558.3" stroke="#333" stroke-width="1.0"/><g transform="translate(75.3 596.0) scale(0.8 1)"><text x="0" y="0" font-family="Liberation Sans" font-size="6.5" text-anchor="middle" fill="#222">10<tspan dy="-4.7" font-size="4.9">2</tspan></text></g><g transform="translate(127.1 596.0) scale(0.8 1)"><text x="0" y="0" font-family="Liberation Sans" font-size="6.5" text-anchor="middle" fill="#222">10<tspan dy="-4.7" font-size="4.9">3</tspan></text></g><g transform="translate(178.8 596.0) scale(0.8 1)"><text x="0" y="0" font-family="Liberation Sans" font-size="6.5" text-anchor="middle" fill="#222">10<tspan dy="-4.7" font-size="4.9">4</tspan></text></g><g transform="translate(230.5 596.0) scale(0.8 1)"><text x="0" y="0" font-family="Liberation Sans" font-size="6.5" text-anchor="middle" fill="#222">10<tspan dy="-4.7" font-size="4.9">5</tspan></text></g><path d="M48.0 581.9v3.5M54.4 581.9v3.5M59.4 581.9v3.5M63.5 581.9v3.5M67.0 581.9v3.5M70.0 581.9v3.5M72.6 581.9v3.5M75.0 581.9v5.5M90.6 581.9v3.5M99.7 581.9v3.5M106.1 581.9v3.5M111.2 581.9v3.5M115.3 581.9v3.5M118.7 581.9v3.5M121.7 581.9v3.5M124.4 581.9v3.5M126.7 581.9v5.5M142.3 581.9v3.5M151.4 581.9v3.5M157.9 581.9v3.5M162.9 581.9v3.5M167.0 581.9v3.5M170.4 581.9v3.5M173.4 581.9v3.5M176.1 581.9v3.5M178.5 581.9v5.5M194.0 581.9v3.5M203.1 581.9v3.5M209.6 581.9v3.5M214.6 581.9v3.5M218.7 581.9v3.5M222.2 581.9v3.5M225.2 581.9v3.5M227.8 581.9v3.5M230.2 581.9v5.5M245.7 581.9v3.5" stroke="#333" stroke-width="0.9"/><path d="M45.0 581.9h-5.0M45.0 578.0h-3.0M45.0 574.1h-3.0M45.0 570.1h-3.0M45.0 566.2h-3.0M45.0 562.3h-5.0M45.0 558.4h-3.0M45.0 554.4h-3.0M45.0 550.5h-3.0M45.0 546.6h-3.0M45.0 542.7h-5.0M45.0 538.7h-3.0M45.0 534.8h-3.0M45.0 530.9h-3.0M45.0 527.0h-3.0M45.0 523.0h-5.0M45.0 519.1h-3.0M45.0 515.2h-3.0M45.0 511.3h-3.0M45.0 507.3h-3.0M45.0 503.4h-5.0M45.0 499.5h-3.0M45.0 495.6h-3.0M45.0 491.6h-3.0M45.0 487.7h-3.0M45.0 483.8h-5.0M45.0 479.9h-3.0M45.0 476.0h-3.0M45.0 472.0h-3.0M45.0 468.1h-3.0M45.0 464.2h-5.0M45.0 460.3h-3.0M45.0 456.3h-3.0M45.0 452.4h-3.0M45.0 448.5h-3.0M45.0 444.6h-5.0M45.0 440.6h-3.0M45.0 436.7h-3.0" stroke="#444" stroke-width="0.8"/><g transform="translate(39.2 581.9) rotate(-90) scale(0.85 1)"><text x="0" y="0" font-family="Liberation Sans" font-size="8" text-anchor="middle" fill="#222" stroke="#222" stroke-width="0.25">0</text></g><g transform="translate(39.2 562.3) rotate(-90) scale(0.85 1)"><text x="0" y="0" font-family="Liberation Sans" font-size="8" text-anchor="middle" fill="#222" stroke="#222" stroke-width="0.25">100</text></g><g transform="translate(39.2 542.7) rotate(-90) scale(0.85 1)"><text x="0" y="0" font-family="Liberation Sans" font-size="8" text-anchor="middle" fill="#222" stroke="#222" stroke-width="0.25">200</text></g><g transform="translate(39.2 523.0) rotate(-90) scale(0.85 1)"><text x="0" y="0" font-family="Liberation Sans" font-size="8" text-anchor="middle" fill="#222" stroke="#222" stroke-width="0.25">300</text></g><g transform="translate(39.2 503.4) rotate(-90) scale(0.85 1)"><text x="0" y="0" font-family="Liberation Sans" font-size="8" text-anchor="middle" fill="#222" stroke="#222" stroke-width="0.25">400</text></g><g transform="translate(39.2 483.8) rotate(-90) scale(0.85 1)"><text x="0" y="0" font-family="Liberation Sans" font-size="8" text-anchor="middle" fill="#222" stroke="#222" stroke-width="0.25">500</text></g><g transform="translate(39.2 464.2) rotate(-90) scale(0.85 1)"><text x="0" y="0" font-family="Liberation Sans" font-size="8" text-anchor="middle" fill="#222" stroke="#222" stroke-width="0.25">600</text></g><g transform="translate(39.2 444.6) rotate(-90) scale(0.85 1)"><text x="0" y="0" font-family="Liberation Sans" font-size="8" text-anchor="middle" fill="#222" stroke="#222" stroke-width="0.25">700</text></g><text x="86.6" y="476.8" font-family="Liberation Serif" font-size="16" font-weight="normal" text-anchor="start">CD4 MFI</text><text x="107.6" y="616.9" font-family="Liberation Serif" font-size="16" font-weight="normal" text-anchor="start">CD4 APC</text><text transform="translate(24.6 513.7) rotate(-90)" font-family="Liberation Serif" font-size="16" text-anchor="middle">Count</text><text x="10" y="441.6" font-family="Liberation Sans" font-size="15" font-weight="bold" text-anchor="start">C</text><path d="M298.0 579.9L298.0 579.9L298.8 579.9L299.5 579.9L300.2 579.9L301.0 579.9L301.8 579.9L302.5 579.9L303.2 579.9L304.0 579.9L304.8 579.9L305.5 579.9L306.2 579.9L307.0 579.9L307.8 579.9L308.5 579.9L309.2 579.9L310.0 579.9L310.8 579.9L311.5 579.9L312.2 579.9L313.0 579.9L313.8 579.9L314.5 579.9L315.2 579.9L316.0 579.9L316.8 579.2L317.5 578.5L318.2 578.3L319.0 579.0L319.8 579.7L320.5 579.8L321.2 579.5L322.0 579.3L322.8 579.1L323.5 578.9L324.2 578.7L325.0 578.4L325.8 579.0L326.5 579.5L327.2 579.9L328.0 579.7L328.8 579.6L329.5 579.5L330.2 579.4L331.0 579.2L331.8 579.1L332.5 579.0L333.2 578.9L334.0 578.7L334.8 578.6L335.5 578.5L336.2 578.4L337.0 578.2L337.8 578.1L338.5 578.3L339.2 578.6L340.0 579.0L340.8 579.3L341.5 579.7L342.2 579.9L343.0 579.8L343.8 579.8L344.5 579.7L345.2 579.7L346.0 579.6L346.8 579.6L347.5 579.5L348.2 579.5L349.0 579.4L349.8 579.4L350.5 579.3L351.2 579.3L352.0 579.2L352.8 579.2L353.5 579.1L354.2 579.1L355.0 579.0L355.8 579.0L356.5 578.9L357.2 578.9L358.0 578.8L358.8 578.8L359.5 578.7L360.2 578.7L361.0 578.6L361.8 578.6L362.5 578.5L363.2 578.5L364.0 578.4L364.8 578.8L365.5 579.2L366.2 579.5L367.0 579.9L367.8 579.9L368.5 579.9L369.2 579.9L370.0 579.9L370.8 579.9L371.5 579.9L372.2 579.9L373.0 579.9L373.8 579.9L374.5 579.9L375.2 579.9L376.0 579.9L376.8 579.9L377.5 579.9L378.2 579.9L379.0 579.9L379.8 579.9L380.5 579.9L381.2 579.9L382.0 579.9L382.8 579.9L383.5 579.9L384.2 579.9L385.0 579.9L385.8 579.9L386.5 579.9L387.2 579.9L388.0 579.9L388.8 579.9L389.5 579.9L390.2 579.9L391.0 579.9L391.8 579.9L392.5 579.9L393.2 579.9L394.0 579.9L394.8 579.9L395.5 579.9L396.2 579.9L397.0 579.9L397.8 579.9L398.5 579.9L399.2 579.9L400.0 579.9L400.8 579.9L401.5 579.9L402.2 579.9L403.0 579.9L403.8 579.9L404.5 579.9L405.2 579.9L406.0 579.9L406.8 579.9L407.5 579.9L408.2 579.9L409.0 579.9L409.8 579.9L410.5 579.9L411.2 579.9L412.0 579.9L412.8 579.9L413.5 579.9L414.2 579.9L415.0 579.9L415.8 579.9L416.5 579.9L417.2 579.9L418.0 579.9L418.8 579.9L419.5 579.9L420.2 579.9L421.0 579.9L421.8 579.9L422.5 579.9L423.2 579.9L424.0 579.9L424.8 579.9L425.5 579.9L426.2 579.0L427.0 576.2L427.8 575.3L428.5 578.1L429.2 579.9L430.0 579.9L430.8 579.9L431.5 579.9L432.2 579.9L433.0 579.9L433.8 579.9L434.5 579.9L435.2 579.9L436.0 579.9L436.8 579.7L437.5 579.4L438.2 579.1L439.0 578.7L439.8 578.3L440.5 577.7L441.2 579.4L442.0 573.4L442.8 573.7L443.5 573.6L444.2 576.6L445.0 570.5L445.8 573.0L446.5 568.2L447.2 568.2L448.0 565.9L448.8 562.2L449.5 557.9L450.2 558.8L451.0 556.2L451.8 551.3L452.5 552.2L453.2 544.4L454.0 541.2L454.8 537.4L455.5 526.8L456.2 518.1L457.0 517.7L457.8 507.2L458.5 503.8L459.2 496.7L460.0 489.2L460.8 468.8L461.5 473.9L462.2 457.5L463.0 458.6L463.8 448.3L464.5 455.4L465.2 435.2L466.0 435.2L466.8 438.3L467.5 438.5L468.2 442.9L469.0 443.0L469.8 436.9L470.5 448.4L471.2 453.1L472.0 449.6L472.8 448.8L473.5 461.0L474.2 463.2L475.0 478.2L475.8 474.3L476.5 484.8L477.2 499.3L478.0 493.6L478.8 505.8L479.5 505.5L480.2 511.2L481.0 515.8L481.8 525.1L482.5 520.4L483.2 523.7L484.0 528.7L484.8 532.9L485.5 536.8L486.2 538.3L487.0 544.4L487.8 549.7L488.5 549.0L489.2 551.5L490.0 558.6L490.8 554.8L491.5 565.2L492.2 560.8L493.0 562.6L493.8 561.0L494.5 563.7L495.2 563.2L496.0 567.7L496.8 569.5L497.5 567.4L498.2 565.1L499.0 570.3L499.8 568.2L500.5 570.9L501.2 574.5L502.0 571.4L502.8 574.0L503.5 574.9L504.2 577.1L505.0 577.5L505.8 578.2L506.5 578.8L507.2 579.3L508.0 579.4L508.8 579.4L509.5 579.5L510.2 579.5L511.0 579.6L511.8 579.6L512.5 579.7L513.2 579.7L514.0 579.8L514.8 579.8L515.5 579.9L515.5 579.9Z" fill="#6464b8" stroke="#4444aa" stroke-width="0.8"/><rect x="298" y="435.2" width="217.5" height="144.7" fill="none" stroke="#707070" stroke-width="1.1"/><line x1="437.3" y1="435.2" x2="437.3" y2="579.9" stroke="#555" stroke-width="1.0"/><line x1="504.6" y1="435.2" x2="504.6" y2="579.9" stroke="#555" stroke-width="1.0"/><line x1="437.3" y1="536.7" x2="504.6" y2="536.7" stroke="#444" stroke-width="1.0"/><g transform="translate(329.9 594.0) scale(0.8 1)"><text x="0" y="0" font-family="Liberation Sans" font-size="6.5" text-anchor="middle" fill="#222">10<tspan dy="-4.7" font-size="4.9">2</tspan></text></g><g transform="translate(384.3 594.0) scale(0.8 1)"><text x="0" y="0" font-family="Liberation Sans" font-size="6.5" text-anchor="middle" fill="#222">10<tspan dy="-4.7" font-size="4.9">3</tspan></text></g><g transform="translate(438.7 594.0) scale(0.8 1)"><text x="0" y="0" font-family="Liberation Sans" font-size="6.5" text-anchor="middle" fill="#222">10<tspan dy="-4.7" font-size="4.9">4</tspan></text></g><g transform="translate(493.1 594.0) scale(0.8 1)"><text x="0" y="0" font-family="Liberation Sans" font-size="6.5" text-anchor="middle" fill="#222">10<tspan dy="-4.7" font-size="4.9">5</tspan></text></g><path d="M301.1 579.9v3.5M307.9 579.9v3.5M313.2 579.9v3.5M317.5 579.9v3.5M321.1 579.9v3.5M324.3 579.9v3.5M327.1 579.9v3.5M329.6 579.9v5.5M345.9 579.9v3.5M355.5 579.9v3.5M362.3 579.9v3.5M367.6 579.9v3.5M371.9 579.9v3.5M375.5 579.9v3.5M378.7 579.9v3.5M381.5 579.9v3.5M384.0 579.9v5.5M400.3 579.9v3.5M409.9 579.9v3.5M416.7 579.9v3.5M422.0 579.9v3.5M426.3 579.9v3.5M429.9 579.9v3.5M433.1 579.9v3.5M435.9 579.9v3.5M438.4 579.9v5.5M454.7 579.9v3.5M464.3 579.9v3.5M471.1 579.9v3.5M476.4 579.9v3.5M480.7 579.9v3.5M484.3 579.9v3.5M487.5 579.9v3.5M490.3 579.9v3.5M492.8 579.9v5.5M509.1 579.9v3.5" stroke="#333" stroke-width="0.9"/><path d="M298.0 579.9h-5.0M298.0 573.8h-3.0M298.0 567.7h-3.0M298.0 561.5h-3.0M298.0 555.4h-3.0M298.0 549.3h-5.0M298.0 543.2h-3.0M298.0 537.1h-3.0M298.0 530.9h-3.0M298.0 524.8h-3.0M298.0 518.7h-5.0M298.0 512.6h-3.0M298.0 506.5h-3.0M298.0 500.3h-3.0M298.0 494.2h-3.0M298.0 488.1h-5.0M298.0 482.0h-3.0M298.0 475.9h-3.0M298.0 469.7h-3.0M298.0 463.6h-3.0M298.0 457.5h-5.0M298.0 451.4h-3.0M298.0 445.3h-3.0M298.0 439.1h-3.0" stroke="#444" stroke-width="0.8"/><g transform="translate(292.2 579.9) rotate(-90) scale(0.85 1)"><text x="0" y="0" font-family="Liberation Sans" font-size="8" text-anchor="middle" fill="#222" stroke="#222" stroke-width="0.25">0</text></g><g transform="translate(292.2 549.3) rotate(-90) scale(0.85 1)"><text x="0" y="0" font-family="Liberation Sans" font-size="8" text-anchor="middle" fill="#222" stroke="#222" stroke-width="0.25">25</text></g><g transform="translate(292.2 518.7) rotate(-90) scale(0.85 1)"><text x="0" y="0" font-family="Liberation Sans" font-size="8" text-anchor="middle" fill="#222" stroke="#222" stroke-width="0.25">50</text></g><g transform="translate(292.2 488.1) rotate(-90) scale(0.85 1)"><text x="0" y="0" font-family="Liberation Sans" font-size="8" text-anchor="middle" fill="#222" stroke="#222" stroke-width="0.25">75</text></g><g transform="translate(292.2 457.5) rotate(-90) scale(0.85 1)"><text x="0" y="0" font-family="Liberation Sans" font-size="8" text-anchor="middle" fill="#222" stroke="#222" stroke-width="0.25">100</text></g><text x="334.8" y="475.2" font-family="Liberation Serif" font-size="16" font-weight="normal" text-anchor="start">CD20 MFI</text><text x="356.8" y="615.3" font-family="Liberation Serif" font-size="16" font-weight="normal" text-anchor="start">CD20 APC</text><text transform="translate(279.2 514) rotate(-90)" font-family="Liberation Serif" font-size="16" text-anchor="middle">Count</text><text x="268.5" y="442.8" font-family="Liberation Sans" font-size="15" font-weight="bold" text-anchor="start">E</text></svg></body></html>
